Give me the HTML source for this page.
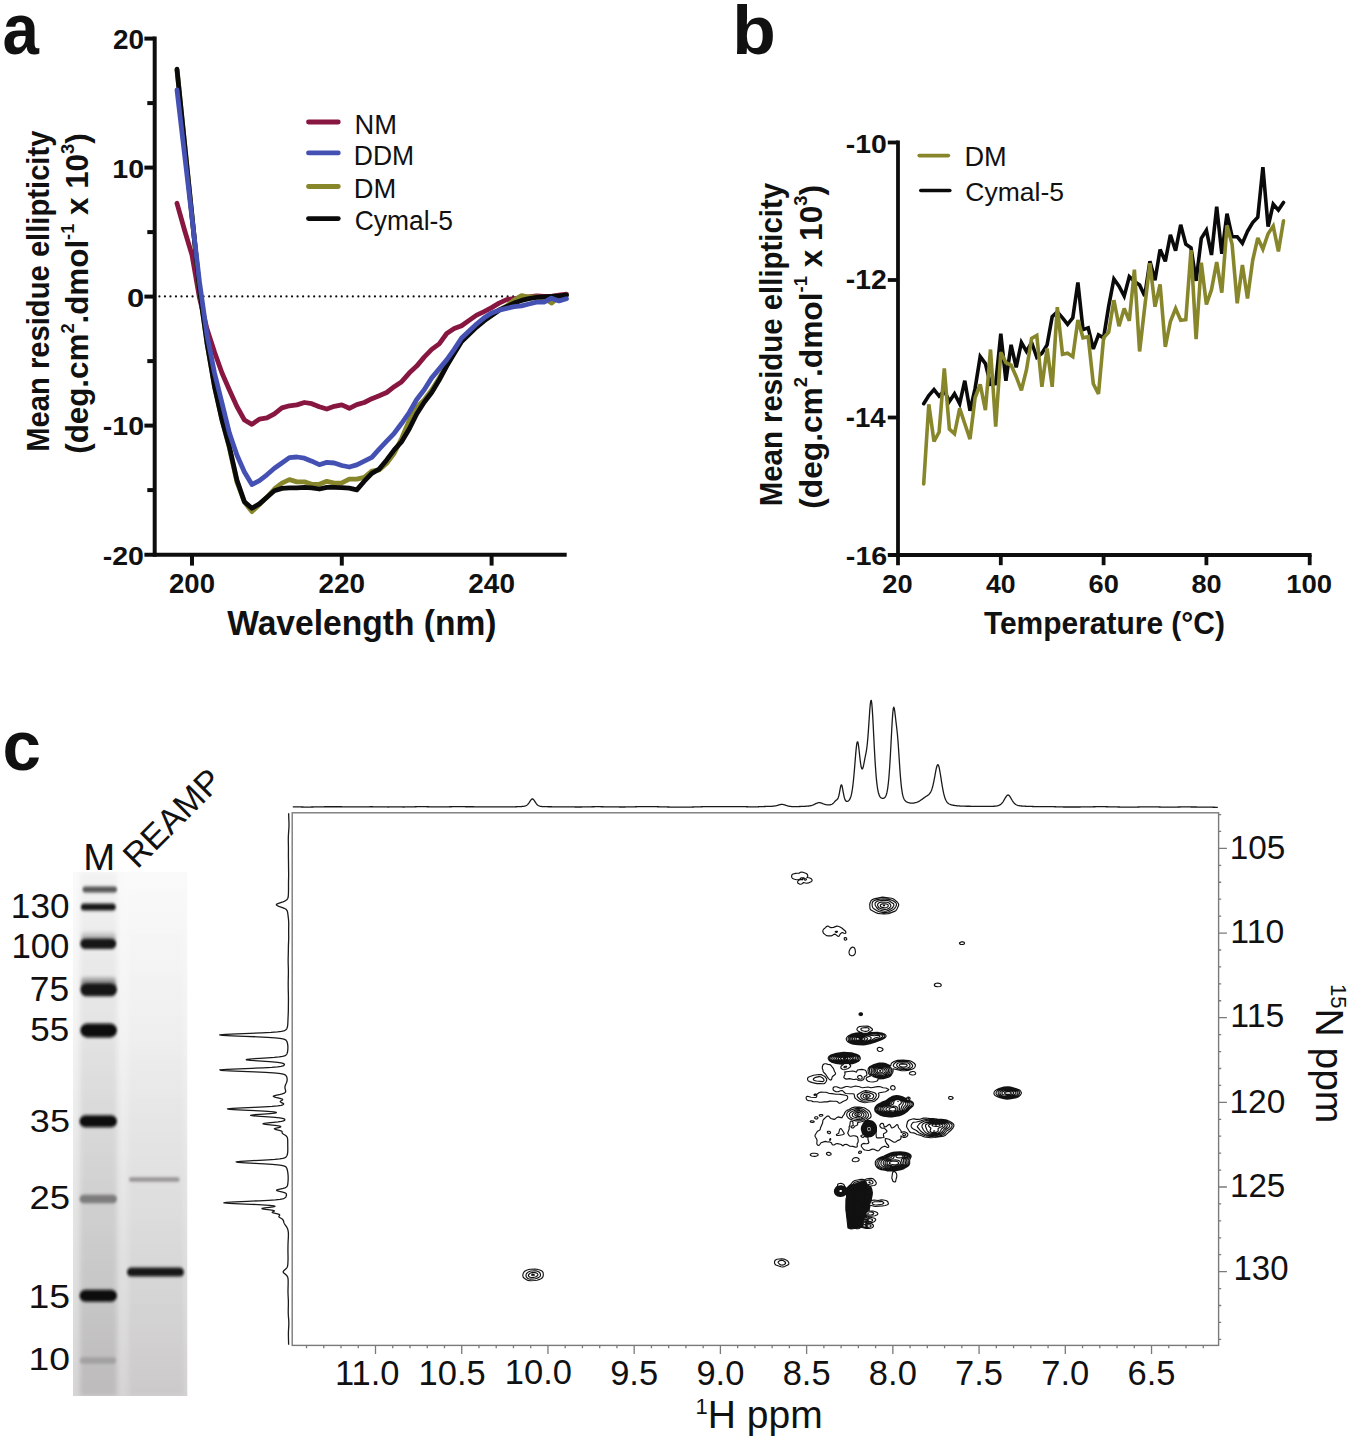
<!DOCTYPE html>
<html><head><meta charset="utf-8"><title>Figure</title>
<style>html,body{margin:0;padding:0;background:#fff;}svg{display:block;}
text{font-family:"Liberation Sans", sans-serif;}</style></head>
<body><svg width="1350" height="1441" viewBox="0 0 1350 1441">
<rect width="1350" height="1441" fill="#fff"/>
<text transform="translate(2.43,54.48) scale(0.9131,1)" font-size="71.78" font-weight="bold" fill="#111" >a</text>
<text transform="translate(732.37,54.11) scale(1.0396,1)" font-size="68.57" font-weight="bold" fill="#111" >b</text>
<text transform="translate(2.43,769.69) scale(0.9729,1)" font-size="71.05" font-weight="bold" fill="#111" >c</text>
<line x1="154.7" y1="36.6" x2="154.7" y2="556.7" stroke="#0d0d0d" stroke-width="4.0"/>
<line x1="144.4" y1="554.7" x2="566.7" y2="554.7" stroke="#0d0d0d" stroke-width="4.0"/>
<line x1="144.4" y1="38.60" x2="154.7" y2="38.60" stroke="#0d0d0d" stroke-width="4.0"/>
<line x1="144.4" y1="167.60" x2="154.7" y2="167.60" stroke="#0d0d0d" stroke-width="4.0"/>
<line x1="144.4" y1="296.60" x2="154.7" y2="296.60" stroke="#0d0d0d" stroke-width="4.0"/>
<line x1="144.4" y1="425.60" x2="154.7" y2="425.60" stroke="#0d0d0d" stroke-width="4.0"/>
<line x1="147.3" y1="103.10" x2="154.7" y2="103.10" stroke="#0d0d0d" stroke-width="4.0"/>
<line x1="147.3" y1="232.10" x2="154.7" y2="232.10" stroke="#0d0d0d" stroke-width="4.0"/>
<line x1="147.3" y1="361.10" x2="154.7" y2="361.10" stroke="#0d0d0d" stroke-width="4.0"/>
<line x1="147.3" y1="490.10" x2="154.7" y2="490.10" stroke="#0d0d0d" stroke-width="4.0"/>
<line x1="192.00" y1="554.7" x2="192.00" y2="565.6" stroke="#0d0d0d" stroke-width="4.0"/>
<line x1="341.80" y1="554.7" x2="341.80" y2="565.6" stroke="#0d0d0d" stroke-width="4.0"/>
<line x1="491.60" y1="554.7" x2="491.60" y2="565.6" stroke="#0d0d0d" stroke-width="4.0"/>
<line x1="159.4" y1="296.4" x2="566" y2="296.4" stroke="#0d0d0d" stroke-width="2.2" stroke-dasharray="0 5.527" stroke-linecap="round"/>
<text transform="translate(112.92,49.13) scale(1.0183,1)" font-size="27.42" font-weight="bold" fill="#111" >20</text>
<text transform="translate(112.31,177.94) scale(1.1112,1)" font-size="25.72" font-weight="bold" fill="#111" >10</text>
<text transform="translate(126.96,306.74) scale(1.2030,1)" font-size="25.72" font-weight="bold" fill="#111" >0</text>
<text transform="translate(102.86,435.44) scale(1.1139,1)" font-size="25.58" font-weight="bold" fill="#111" >-10</text>
<text transform="translate(102.76,565.33) scale(1.0668,1)" font-size="26.71" font-weight="bold" fill="#111" >-20</text>
<text transform="translate(169.04,592.53) scale(1.0319,1)" font-size="26.71" font-weight="bold" fill="#111" >200</text>
<text transform="translate(318.62,593.02) scale(0.9863,1)" font-size="28.27" font-weight="bold" fill="#111" >220</text>
<text transform="translate(468.32,593.02) scale(0.9885,1)" font-size="28.27" font-weight="bold" fill="#111" >240</text>
<text transform="translate(227.22,635.13) scale(0.9691,1)" font-size="34.67" font-weight="bold" fill="#111" >Wavelength (nm)</text>
<polyline points="177.0,203.3 184.5,230.0 192.0,255.0 199.5,298.0 207.0,329.0 214.5,352.0 222.0,373.0 229.4,390.0 236.9,406.5 244.4,420.0 251.9,424.4 259.4,419.1 266.9,417.9 274.4,413.8 281.9,407.9 289.4,405.8 296.9,404.9 304.4,402.5 311.8,403.7 319.3,406.7 326.8,409.0 334.3,406.3 341.8,404.9 349.3,408.3 356.8,404.6 364.3,402.5 371.8,398.7 379.2,395.8 386.7,392.5 394.2,386.7 401.7,381.7 409.2,373.1 416.7,366.1 424.2,357.1 431.7,349.4 439.2,343.9 446.7,333.5 454.2,328.6 461.6,325.8 469.1,320.4 476.6,315.1 484.1,311.6 491.6,307.6 499.1,303.1 506.6,299.6 514.1,298.7 521.6,297.8 529.0,296.9 536.5,296.0 544.0,296.4 551.5,296.4 559.0,295.1 566.5,294.2" fill="none" stroke="#871741" stroke-width="4.8" stroke-linejoin="round" stroke-linecap="round"/>
<polyline points="177.0,70.0 184.5,143.0 192.0,216.0 199.5,290.0 207.0,343.0 214.5,386.0 222.0,420.0 229.4,448.0 236.9,482.0 244.4,502.0 251.9,511.6 259.4,504.4 266.9,497.3 274.4,489.0 281.9,483.1 289.4,479.6 296.9,481.9 304.4,481.9 311.8,484.3 319.3,484.3 326.8,481.3 334.3,483.1 341.8,482.8 349.3,479.1 356.8,479.1 364.3,477.4 371.8,471.2 379.2,469.9 386.7,463.3 394.2,453.3 401.7,438.3 409.2,420.8 416.7,407.5 424.2,400.0 431.7,390.0 439.2,378.0 446.7,365.0 454.2,352.0 461.6,341.0 469.1,333.0 476.6,326.0 484.1,320.0 491.6,315.0 499.1,310.0 506.6,306.0 514.1,300.0 521.6,295.6 529.0,297.0 536.5,297.0 544.0,298.0 551.5,303.1 559.0,297.0 566.5,295.0" fill="none" stroke="#87862b" stroke-width="4.8" stroke-linejoin="round" stroke-linecap="round"/>
<polyline points="177.0,69.2 184.5,143.0 192.0,216.0 199.5,290.0 207.0,343.0 214.5,386.7 222.0,420.0 229.4,446.7 236.9,480.0 244.4,501.7 251.9,508.3 259.4,503.9 266.9,497.3 274.4,490.8 281.9,488.4 289.4,487.9 296.9,487.9 304.4,487.3 311.8,487.9 319.3,489.0 326.8,487.3 334.3,487.3 341.8,487.6 349.3,488.2 356.8,489.9 364.3,481.2 371.8,473.3 379.2,469.1 386.7,459.9 394.2,449.9 401.7,441.6 409.2,429.0 416.7,414.0 424.2,402.2 431.7,392.5 439.2,380.0 446.7,366.1 454.2,353.6 461.6,341.5 469.1,334.2 476.6,327.1 484.1,320.9 491.6,315.6 499.1,310.2 506.6,306.7 514.1,303.1 521.6,300.4 529.0,298.7 536.5,297.3 544.0,296.9 551.5,296.4 559.0,296.0 566.5,295.1" fill="none" stroke="#0a0a0a" stroke-width="4.8" stroke-linejoin="round" stroke-linecap="round"/>
<polyline points="177.0,90.0 184.5,154.0 192.0,218.0 199.5,282.0 207.0,335.0 214.5,373.0 222.0,403.0 229.4,433.0 236.9,455.0 244.4,472.0 251.9,484.5 259.4,480.7 266.9,474.8 274.4,468.3 281.9,463.0 289.4,457.6 296.9,457.0 304.4,458.2 311.8,461.2 319.3,464.7 326.8,462.4 334.3,463.0 341.8,465.5 349.3,467.0 356.8,464.9 364.3,461.2 371.8,457.4 379.2,449.1 386.7,441.2 394.2,433.3 401.7,423.3 409.2,412.5 416.7,399.5 424.2,389.7 431.7,377.9 439.2,368.9 446.7,359.9 454.2,349.4 461.6,338.0 469.1,331.0 476.6,324.0 484.1,317.8 491.6,312.9 499.1,310.2 506.6,308.4 514.1,306.7 521.6,305.8 529.0,304.0 536.5,302.2 544.0,302.2 551.5,298.2 559.0,300.9 566.5,298.7" fill="none" stroke="#4451b3" stroke-width="4.8" stroke-linejoin="round" stroke-linecap="round"/>
<line x1="308.5" y1="122" x2="338.3" y2="122" stroke="#871741" stroke-width="4.8" stroke-linecap="round"/>
<line x1="308.5" y1="152.9" x2="338.3" y2="152.9" stroke="#4451b3" stroke-width="4.8" stroke-linecap="round"/>
<line x1="308.5" y1="186.5" x2="338.3" y2="186.5" stroke="#87862b" stroke-width="4.8" stroke-linecap="round"/>
<line x1="308.5" y1="218.6" x2="338.3" y2="218.6" stroke="#0a0a0a" stroke-width="4.8" stroke-linecap="round"/>
<text transform="translate(354.44,133.60) scale(0.9944,1)" font-size="27.49" font-weight="normal" fill="#111" >NM</text>
<text transform="translate(353.81,164.70) scale(0.9394,1)" font-size="28.22" font-weight="normal" fill="#111" >DDM</text>
<text transform="translate(353.74,198.00) scale(0.9840,1)" font-size="27.78" font-weight="normal" fill="#111" >DM</text>
<text transform="translate(354.68,230.37) scale(0.9741,1)" font-size="27.13" font-weight="normal" fill="#111" >Cymal-5</text>
<text transform="translate(48.84,451.87) rotate(-90) scale(0.9234,1)" font-size="31.64" font-weight="bold" fill="#111" >Mean residue ellipticity</text>
<text transform="translate(88.20,453.80) rotate(-90) scale(1.0250,1)" font-size="30.60" font-weight="bold" fill="#111" xml:space="preserve"><tspan>(deg.cm</tspan><tspan font-size="17.75" dy="-14.69">2</tspan><tspan dy="14.69">.dmol</tspan><tspan font-size="17.75" dy="-14.69">-1</tspan><tspan dy="14.69"> x 10</tspan><tspan font-size="17.75" dy="-14.69">3</tspan><tspan dy="14.69">)</tspan></text>
<line x1="898.0" y1="140.60" x2="898.0" y2="565.2" stroke="#0d0d0d" stroke-width="3.8"/>
<line x1="887.8" y1="555.00" x2="1311.6" y2="555.00" stroke="#0d0d0d" stroke-width="3.8"/>
<line x1="887.8" y1="142.50" x2="898.0" y2="142.50" stroke="#0d0d0d" stroke-width="3.8"/>
<line x1="887.8" y1="280.00" x2="898.0" y2="280.00" stroke="#0d0d0d" stroke-width="3.8"/>
<line x1="887.8" y1="417.50" x2="898.0" y2="417.50" stroke="#0d0d0d" stroke-width="3.8"/>
<line x1="1000.80" y1="555.00" x2="1000.80" y2="565.2" stroke="#0d0d0d" stroke-width="3.8"/>
<line x1="1103.60" y1="555.00" x2="1103.60" y2="565.2" stroke="#0d0d0d" stroke-width="3.8"/>
<line x1="1206.40" y1="555.00" x2="1206.40" y2="565.2" stroke="#0d0d0d" stroke-width="3.8"/>
<line x1="1309.70" y1="555.00" x2="1309.70" y2="565.2" stroke="#0d0d0d" stroke-width="3.8"/>
<text transform="translate(845.77,153.48) scale(1.0698,1)" font-size="26.50" font-weight="bold" fill="#111" >-10</text>
<text transform="translate(845.77,289.40) scale(1.0519,1)" font-size="26.95" font-weight="bold" fill="#111" >-12</text>
<text transform="translate(845.79,426.90) scale(1.0109,1)" font-size="27.35" font-weight="bold" fill="#111" >-14</text>
<text transform="translate(845.85,564.94) scale(1.0971,1)" font-size="26.15" font-weight="bold" fill="#111" >-16</text>
<text transform="translate(882.35,593.05) scale(1.0891,1)" font-size="25.02" font-weight="bold" fill="#111" >20</text>
<text transform="translate(985.90,593.05) scale(1.0647,1)" font-size="25.02" font-weight="bold" fill="#111" >40</text>
<text transform="translate(1088.53,593.05) scale(1.0879,1)" font-size="25.02" font-weight="bold" fill="#111" >60</text>
<text transform="translate(1191.47,593.05) scale(1.0826,1)" font-size="25.02" font-weight="bold" fill="#111" >80</text>
<text transform="translate(1286.18,592.55) scale(1.0946,1)" font-size="25.16" font-weight="bold" fill="#111" >100</text>
<text transform="translate(983.90,634.30) scale(0.9568,1)" font-size="31.31" font-weight="bold" fill="#111" >Temperature (°C)</text>
<text transform="translate(782.34,506.28) rotate(-90) scale(0.9292,1)" font-size="31.64" font-weight="bold" fill="#111" >Mean residue ellipticity</text>
<text transform="translate(821.70,508.70) rotate(-90) scale(1.0360,1)" font-size="30.60" font-weight="bold" fill="#111" xml:space="preserve"><tspan>(deg.cm</tspan><tspan font-size="17.75" dy="-14.69">2</tspan><tspan dy="14.69">.dmol</tspan><tspan font-size="17.75" dy="-14.69">-1</tspan><tspan dy="14.69"> x 10</tspan><tspan font-size="17.75" dy="-14.69">3</tspan><tspan dy="14.69">)</tspan></text>
<polyline points="923.7,403.7 928.8,395.5 934.0,389.6 939.1,396.1 944.3,390.8 949.4,401.4 954.5,393.7 959.7,403.7 964.8,380.7 970.0,410.8 975.1,388.4 980.2,356.6 985.4,363.6 990.5,384.3 995.7,383.7 1000.8,333.6 1005.9,380.7 1011.1,344.8 1016.2,367.3 1021.4,342.5 1026.5,351.4 1031.6,342.5 1036.8,357.3 1041.9,353.2 1047.1,344.9 1052.2,316.6 1057.3,311.9 1062.5,317.8 1067.6,324.3 1072.8,317.8 1077.9,282.4 1083.0,329.6 1088.2,327.8 1093.3,349.0 1098.5,334.9 1103.6,337.8 1108.7,306.1 1113.9,279.0 1119.0,286.1 1124.2,296.1 1129.3,276.7 1134.4,281.4 1139.6,284.9 1144.7,296.1 1149.9,261.3 1155.0,280.2 1160.1,249.5 1165.3,261.3 1170.4,234.8 1175.6,250.7 1180.7,224.8 1185.8,244.2 1191.0,247.9 1196.1,280.9 1201.3,238.4 1206.4,230.2 1211.5,255.0 1216.7,206.6 1221.8,253.8 1227.0,213.7 1232.1,236.7 1237.2,236.7 1242.4,243.2 1247.5,231.4 1252.7,222.5 1257.8,217.2 1262.9,167.1 1268.1,226.7 1273.2,204.2 1278.4,210.1 1283.5,202.5" fill="none" stroke="#0a0a0a" stroke-width="3.6" stroke-linejoin="miter" stroke-miterlimit="3" stroke-linecap="round"/>
<polyline points="923.7,483.9 928.8,404.3 934.0,441.5 939.1,432.0 944.3,368.3 949.4,429.1 954.5,433.8 959.7,408.4 964.8,423.8 970.0,439.1 975.1,397.8 980.2,384.3 985.4,410.2 990.5,349.5 995.7,426.7 1000.8,352.4 1005.9,362.6 1011.1,365.0 1016.2,376.7 1021.4,390.3 1026.5,369.7 1031.6,338.4 1036.8,335.5 1041.9,386.8 1047.1,348.4 1052.2,386.8 1057.3,307.2 1062.5,354.3 1067.6,353.2 1072.8,356.7 1077.9,320.1 1083.0,337.8 1088.2,336.7 1093.3,383.8 1098.5,393.8 1103.6,337.8 1108.7,332.1 1113.9,300.2 1119.0,326.2 1124.2,308.5 1129.3,320.9 1134.4,269.6 1139.6,351.5 1144.7,307.3 1149.9,263.1 1155.0,306.7 1160.1,284.3 1165.3,346.8 1170.4,321.5 1175.6,308.5 1180.7,320.3 1185.8,319.7 1191.0,250.2 1196.1,339.2 1201.3,262.6 1206.4,304.5 1211.5,289.7 1216.7,262.0 1221.8,292.7 1227.0,225.5 1232.1,244.3 1237.2,303.3 1242.4,265.0 1247.5,298.6 1252.7,260.3 1257.8,237.9 1262.9,249.1 1268.1,233.7 1273.2,226.1 1278.4,251.4 1283.5,220.8" fill="none" stroke="#87862b" stroke-width="3.6" stroke-linejoin="miter" stroke-miterlimit="3" stroke-linecap="round"/>
<line x1="919.2" y1="155.6" x2="948.4" y2="155.6" stroke="#87862b" stroke-width="3.6" stroke-linecap="round"/>
<line x1="920.8" y1="190.5" x2="949.8" y2="190.5" stroke="#0a0a0a" stroke-width="3.6" stroke-linecap="round"/>
<text transform="translate(964.46,166.30) scale(0.9998,1)" font-size="27.20" font-weight="normal" fill="#111" >DM</text>
<text transform="translate(965.37,201.35) scale(1.0090,1)" font-size="26.27" font-weight="normal" fill="#111" >Cymal-5</text>
<defs>
<filter id="bl1" x="-20%" y="-200%" width="140%" height="500%"><feGaussianBlur stdDeviation="1.3 1.7"/></filter>
<filter id="bl2" x="-20%" y="-200%" width="140%" height="500%"><feGaussianBlur stdDeviation="1.6 2.2"/></filter>
<filter id="bl3" x="-50%" y="-50%" width="200%" height="200%"><feGaussianBlur stdDeviation="2.5"/></filter>
<linearGradient id="gelbg" x1="0" y1="0" x2="0" y2="1">
<stop offset="0" stop-color="#fafafa"/><stop offset="0.3" stop-color="#f3f3f3"/><stop offset="0.6" stop-color="#e7e6e6"/><stop offset="0.85" stop-color="#dddcdc"/><stop offset="1" stop-color="#d6d4d4"/></linearGradient>
<linearGradient id="gellane" x1="0" y1="0" x2="0" y2="1">
<stop offset="0" stop-color="#000" stop-opacity="0.03"/><stop offset="0.35" stop-color="#000" stop-opacity="0.07"/><stop offset="1" stop-color="#000" stop-opacity="0.12"/></linearGradient>
<linearGradient id="gellane2" x1="0" y1="0" x2="0" y2="1">
<stop offset="0" stop-color="#000" stop-opacity="0.0"/><stop offset="0.4" stop-color="#000" stop-opacity="0.02"/><stop offset="1" stop-color="#000" stop-opacity="0.05"/></linearGradient>
</defs>
<rect x="73" y="872" width="114.3" height="524" fill="url(#gelbg)"/>
<clipPath id="gelclip"><rect x="73" y="872" width="114.3" height="524"/></clipPath>
<rect x="80" y="872" width="37" height="524" fill="url(#gellane)" filter="url(#bl3)" clip-path="url(#gelclip)"/>
<rect x="128.5" y="872" width="56" height="524" fill="url(#gellane2)" filter="url(#bl3)" clip-path="url(#gelclip)"/>
<rect x="81" y="978" width="35" height="12" rx="4" fill="#444" opacity="0.5" filter="url(#bl2)"/>
<rect x="81" y="933" width="35" height="10" rx="4" fill="#666" opacity="0.35" filter="url(#bl2)"/>
<rect x="82.5" y="886.4" width="34.5" height="6" rx="3.0" fill="#555" filter="url(#bl1)"/>
<rect x="80.8" y="903.4" width="35.0" height="7" rx="3.5" fill="#141414" filter="url(#bl1)"/>
<rect x="80.2" y="938.5" width="36.1" height="10.5" rx="5.2" fill="#131313" filter="url(#bl1)"/>
<rect x="80.3" y="983.3" width="36.7" height="13" rx="6.5" fill="#131313" filter="url(#bl1)"/>
<rect x="80.3" y="1023.4" width="36.7" height="14" rx="7.0" fill="#0d0d0d" filter="url(#bl1)"/>
<rect x="79.5" y="1115.3" width="37.5" height="12" rx="6.0" fill="#111" filter="url(#bl1)"/>
<rect x="79.5" y="1194.7" width="37.5" height="8.5" rx="4.2" fill="#7d7b7b" filter="url(#bl1)"/>
<rect x="79.5" y="1289.7" width="37.5" height="12" rx="6.0" fill="#111" filter="url(#bl1)"/>
<rect x="80" y="1357.2" width="36.0" height="6.5" rx="3.2" fill="#a3a1a1" filter="url(#bl1)"/>
<rect x="129" y="1177.6" width="50.6" height="4" rx="2" fill="#8e8c8c" filter="url(#bl1)"/>
<rect x="127" y="1267.6" width="57" height="9" rx="4.5" fill="#121212" filter="url(#bl1)"/>
<text transform="translate(10.87,917.55) scale(1.0017,1)" font-size="35.05" font-weight="normal" fill="#111" >130</text>
<text transform="translate(11.39,957.95) scale(0.9807,1)" font-size="35.48" font-weight="normal" fill="#111" >100</text>
<text transform="translate(29.74,1000.95) scale(1.0114,1)" font-size="34.98" font-weight="normal" fill="#111" >75</text>
<text transform="translate(30.20,1041.46) scale(1.0418,1)" font-size="33.55" font-weight="normal" fill="#111" >55</text>
<text transform="translate(29.85,1131.98) scale(1.1279,1)" font-size="31.94" font-weight="normal" fill="#111" >35</text>
<text transform="translate(29.38,1209.37) scale(1.0887,1)" font-size="33.50" font-weight="normal" fill="#111" >25</text>
<text transform="translate(28.40,1308.26) scale(1.1050,1)" font-size="33.84" font-weight="normal" fill="#111" >15</text>
<text transform="translate(28.40,1369.68) scale(1.1623,1)" font-size="32.08" font-weight="normal" fill="#111" >10</text>
<text transform="translate(83.24,869.60) scale(1.0547,1)" font-size="36.36" font-weight="normal" fill="#111" >M</text>
<text transform="translate(137.2,869.8) rotate(-45)" font-size="34.5" fill="#111">REAMP</text>
<rect x="292.2" y="812.8" width="926.4" height="532.6" fill="none" stroke="#7a7a7a" stroke-width="1.4"/>
<path d="M1218.6,814.54h2.6 M1218.6,831.47h2.6 M1218.6,848.40h8.3 M1218.6,865.33h2.6 M1218.6,882.26h2.6 M1218.6,899.19h2.6 M1218.6,916.12h2.6 M1218.6,933.05h8.3 M1218.6,949.98h2.6 M1218.6,966.91h2.6 M1218.6,983.84h2.6 M1218.6,1000.77h2.6 M1218.6,1017.70h8.3 M1218.6,1034.63h2.6 M1218.6,1051.56h2.6 M1218.6,1068.49h2.6 M1218.6,1085.42h2.6 M1218.6,1102.35h8.3 M1218.6,1119.28h2.6 M1218.6,1136.21h2.6 M1218.6,1153.14h2.6 M1218.6,1170.07h2.6 M1218.6,1187.00h8.3 M1218.6,1203.93h2.6 M1218.6,1220.86h2.6 M1218.6,1237.79h2.6 M1218.6,1254.72h2.6 M1218.6,1271.65h8.3 M1218.6,1288.58h2.6 M1218.6,1305.51h2.6 M1218.6,1322.44h2.6 M1218.6,1339.37h2.6 M306.52,1345.4v2.8 M323.76,1345.4v2.8 M341.01,1345.4v2.8 M358.26,1345.4v2.8 M375.50,1345.4v8.6 M392.74,1345.4v2.8 M409.99,1345.4v2.8 M427.24,1345.4v2.8 M444.48,1345.4v2.8 M461.73,1345.4v8.6 M478.97,1345.4v2.8 M496.21,1345.4v2.8 M513.46,1345.4v2.8 M530.71,1345.4v2.8 M547.95,1345.4v8.6 M565.19,1345.4v2.8 M582.44,1345.4v2.8 M599.69,1345.4v2.8 M616.93,1345.4v2.8 M634.17,1345.4v8.6 M651.42,1345.4v2.8 M668.66,1345.4v2.8 M685.91,1345.4v2.8 M703.15,1345.4v2.8 M720.40,1345.4v8.6 M737.64,1345.4v2.8 M754.89,1345.4v2.8 M772.14,1345.4v2.8 M789.38,1345.4v2.8 M806.62,1345.4v8.6 M823.87,1345.4v2.8 M841.11,1345.4v2.8 M858.36,1345.4v2.8 M875.61,1345.4v2.8 M892.85,1345.4v8.6 M910.09,1345.4v2.8 M927.34,1345.4v2.8 M944.58,1345.4v2.8 M961.83,1345.4v2.8 M979.07,1345.4v8.6 M996.32,1345.4v2.8 M1013.56,1345.4v2.8 M1030.81,1345.4v2.8 M1048.06,1345.4v2.8 M1065.30,1345.4v8.6 M1082.54,1345.4v2.8 M1099.79,1345.4v2.8 M1117.03,1345.4v2.8 M1134.28,1345.4v2.8 M1151.53,1345.4v8.6 M1168.77,1345.4v2.8 M1186.01,1345.4v2.8 M1203.26,1345.4v2.8" stroke="#7a7a7a" stroke-width="1.3" fill="none"/>
<text transform="translate(1229.70,858.97) scale(0.9960,1)" font-size="33.50" font-weight="normal" fill="#111" >105</text>
<text transform="translate(1230.37,943.41) scale(0.9980,1)" font-size="33.85" font-weight="normal" fill="#111" >110</text>
<text transform="translate(1230.36,1026.86) scale(0.9960,1)" font-size="33.98" font-weight="normal" fill="#111" >115</text>
<text transform="translate(1229.39,1113.16) scale(0.9918,1)" font-size="33.78" font-weight="normal" fill="#111" >120</text>
<text transform="translate(1229.91,1196.87) scale(0.9922,1)" font-size="33.50" font-weight="normal" fill="#111" >125</text>
<text transform="translate(1233.53,1279.66) scale(0.9645,1)" font-size="34.20" font-weight="normal" fill="#111" >130</text>
<text x="334.89" y="1384.8" font-size="34.5" fill="#111">11.0</text>
<text x="418.55" y="1384.8" font-size="34.5" fill="#111">10.5</text>
<text x="504.78" y="1384.0" font-size="34.5" fill="#111">10.0</text>
<text x="610.19" y="1384.8" font-size="34.5" fill="#111">9.5</text>
<text x="696.42" y="1384.8" font-size="34.5" fill="#111">9.0</text>
<text x="782.64" y="1384.8" font-size="34.5" fill="#111">8.5</text>
<text x="868.87" y="1384.8" font-size="34.5" fill="#111">8.0</text>
<text x="955.09" y="1384.8" font-size="34.5" fill="#111">7.5</text>
<text x="1041.32" y="1384.8" font-size="34.5" fill="#111">7.0</text>
<text x="1127.54" y="1384.8" font-size="34.5" fill="#111">6.5</text>
<text x="695.5" y="1428.2" font-size="39" fill="#111"><tspan font-size="22" dy="-14.5">1</tspan><tspan dy="14.5">H ppm</tspan></text>
<text transform="translate(1316.2,984) rotate(90)" font-size="39" fill="#111"><tspan font-size="22" dy="-14.5">15</tspan><tspan dy="14.5">N ppm</tspan></text>
<path d="M292.8,806.85 L293.3,806.85 L293.8,806.85 L294.3,806.85 L294.8,806.86 L295.3,806.87 L295.8,806.87 L296.3,806.88 L296.8,806.89 L297.3,806.90 L297.8,806.91 L298.3,806.92 L298.8,806.93 L299.3,806.94 L299.8,806.95 L300.3,806.96 L300.8,806.97 L301.3,806.98 L301.8,806.99 L302.3,807.00 L302.8,807.01 L303.3,807.02 L303.8,807.03 L304.3,807.03 L304.8,807.04 L305.3,807.04 L305.8,807.05 L306.3,807.05 L306.8,807.05 L307.3,807.05 L307.8,807.05 L308.3,807.05 L308.8,807.05 L309.3,807.04 L309.8,807.04 L310.3,807.03 L310.8,807.03 L311.3,807.02 L311.8,807.01 L312.3,807.00 L312.8,806.99 L313.3,806.98 L313.8,806.97 L314.3,806.96 L314.8,806.95 L315.3,806.94 L315.8,806.93 L316.3,806.92 L316.8,806.91 L317.3,806.90 L317.8,806.89 L318.3,806.88 L318.8,806.87 L319.3,806.86 L319.8,806.85 L320.3,806.84 L320.8,806.83 L321.3,806.82 L321.8,806.81 L322.3,806.80 L322.8,806.79 L323.3,806.79 L323.8,806.78 L324.3,806.77 L324.8,806.77 L325.3,806.76 L325.8,806.75 L326.3,806.75 L326.8,806.74 L327.3,806.74 L327.8,806.74 L328.3,806.73 L328.8,806.73 L329.3,806.73 L329.8,806.73 L330.3,806.73 L330.8,806.73 L331.3,806.73 L331.8,806.73 L332.3,806.73 L332.8,806.73 L333.3,806.73 L333.8,806.74 L334.3,806.74 L334.8,806.74 L335.3,806.74 L335.8,806.74 L336.3,806.75 L336.8,806.75 L337.3,806.75 L337.8,806.76 L338.3,806.76 L338.8,806.76 L339.3,806.76 L339.8,806.77 L340.3,806.77 L340.8,806.77 L341.3,806.77 L341.8,806.77 L342.3,806.78 L342.8,806.78 L343.3,806.78 L343.8,806.78 L344.3,806.78 L344.8,806.78 L345.3,806.78 L345.8,806.78 L346.3,806.79 L346.8,806.79 L347.3,806.79 L347.8,806.79 L348.3,806.79 L348.8,806.79 L349.3,806.80 L349.8,806.80 L350.3,806.80 L350.8,806.80 L351.3,806.80 L351.8,806.81 L352.3,806.81 L352.8,806.81 L353.3,806.82 L353.8,806.82 L354.3,806.82 L354.8,806.82 L355.3,806.83 L355.8,806.83 L356.3,806.83 L356.8,806.83 L357.3,806.84 L357.8,806.84 L358.3,806.84 L358.8,806.84 L359.3,806.84 L359.8,806.84 L360.3,806.84 L360.8,806.84 L361.3,806.84 L361.8,806.83 L362.3,806.83 L362.8,806.83 L363.3,806.83 L363.8,806.82 L364.3,806.82 L364.8,806.81 L365.3,806.81 L365.8,806.80 L366.3,806.80 L366.8,806.80 L367.3,806.79 L367.8,806.79 L368.3,806.78 L368.8,806.78 L369.3,806.78 L369.8,806.77 L370.3,806.77 L370.8,806.77 L371.3,806.77 L371.8,806.77 L372.3,806.77 L372.8,806.77 L373.3,806.78 L373.8,806.78 L374.3,806.79 L374.8,806.79 L375.3,806.80 L375.8,806.80 L376.3,806.81 L376.8,806.82 L377.3,806.83 L377.8,806.84 L378.3,806.85 L378.8,806.86 L379.3,806.87 L379.8,806.88 L380.3,806.89 L380.8,806.90 L381.3,806.91 L381.8,806.92 L382.3,806.92 L382.8,806.93 L383.3,806.94 L383.8,806.95 L384.3,806.95 L384.8,806.96 L385.3,806.96 L385.8,806.97 L386.3,806.97 L386.8,806.97 L387.3,806.97 L387.8,806.98 L388.3,806.98 L388.8,806.98 L389.3,806.97 L389.8,806.97 L390.3,806.97 L390.8,806.97 L391.3,806.97 L391.8,806.97 L392.3,806.96 L392.8,806.96 L393.3,806.96 L393.8,806.96 L394.3,806.96 L394.8,806.96 L395.3,806.95 L395.8,806.95 L396.3,806.95 L396.8,806.95 L397.3,806.96 L397.8,806.96 L398.3,806.96 L398.8,806.96 L399.3,806.96 L399.8,806.96 L400.3,806.97 L400.8,806.97 L401.3,806.97 L401.8,806.97 L402.3,806.97 L402.8,806.98 L403.3,806.98 L403.8,806.98 L404.3,806.98 L404.8,806.97 L405.3,806.97 L405.8,806.97 L406.3,806.96 L406.8,806.96 L407.3,806.95 L407.8,806.95 L408.3,806.94 L408.8,806.93 L409.3,806.92 L409.8,806.91 L410.3,806.90 L410.8,806.88 L411.3,806.87 L411.8,806.86 L412.3,806.84 L412.8,806.83 L413.3,806.81 L413.8,806.80 L414.3,806.79 L414.8,806.77 L415.3,806.76 L415.8,806.75 L416.3,806.74 L416.8,806.72 L417.3,806.71 L417.8,806.71 L418.3,806.70 L418.8,806.69 L419.3,806.69 L419.8,806.68 L420.3,806.68 L420.8,806.68 L421.3,806.68 L421.8,806.68 L422.3,806.68 L422.8,806.68 L423.3,806.69 L423.8,806.69 L424.3,806.70 L424.8,806.70 L425.3,806.71 L425.8,806.72 L426.3,806.72 L426.8,806.73 L427.3,806.74 L427.8,806.75 L428.3,806.76 L428.8,806.77 L429.3,806.78 L429.8,806.79 L430.3,806.79 L430.8,806.80 L431.3,806.81 L431.8,806.82 L432.3,806.83 L432.8,806.83 L433.3,806.84 L433.8,806.85 L434.3,806.85 L434.8,806.86 L435.3,806.86 L435.8,806.87 L436.3,806.87 L436.8,806.88 L437.3,806.88 L437.8,806.88 L438.3,806.88 L438.8,806.88 L439.3,806.88 L439.8,806.88 L440.3,806.88 L440.8,806.88 L441.3,806.88 L441.8,806.87 L442.3,806.87 L442.8,806.87 L443.3,806.86 L443.8,806.85 L444.3,806.85 L444.8,806.84 L445.3,806.84 L445.8,806.83 L446.3,806.82 L446.8,806.81 L447.3,806.80 L447.8,806.79 L448.3,806.79 L448.8,806.78 L449.3,806.77 L449.8,806.76 L450.3,806.75 L450.8,806.74 L451.3,806.73 L451.8,806.73 L452.3,806.72 L452.8,806.71 L453.3,806.71 L453.8,806.70 L454.3,806.69 L454.8,806.69 L455.3,806.69 L455.8,806.68 L456.3,806.68 L456.8,806.68 L457.3,806.68 L457.8,806.68 L458.3,806.68 L458.8,806.68 L459.3,806.68 L459.8,806.68 L460.3,806.68 L460.8,806.69 L461.3,806.69 L461.8,806.69 L462.3,806.70 L462.8,806.70 L463.3,806.71 L463.8,806.71 L464.3,806.72 L464.8,806.72 L465.3,806.73 L465.8,806.73 L466.3,806.74 L466.8,806.74 L467.3,806.74 L467.8,806.75 L468.3,806.75 L468.8,806.76 L469.3,806.76 L469.8,806.76 L470.3,806.76 L470.8,806.77 L471.3,806.77 L471.8,806.77 L472.3,806.77 L472.8,806.77 L473.3,806.77 L473.8,806.77 L474.3,806.78 L474.8,806.78 L475.3,806.78 L475.8,806.78 L476.3,806.78 L476.8,806.78 L477.3,806.78 L477.8,806.78 L478.3,806.78 L478.8,806.78 L479.3,806.78 L479.8,806.78 L480.3,806.78 L480.8,806.78 L481.3,806.78 L481.8,806.78 L482.3,806.78 L482.8,806.78 L483.3,806.78 L483.8,806.78 L484.3,806.78 L484.8,806.78 L485.3,806.78 L485.8,806.78 L486.3,806.78 L486.8,806.78 L487.3,806.78 L487.8,806.78 L488.3,806.79 L488.8,806.79 L489.3,806.79 L489.8,806.79 L490.3,806.79 L490.8,806.79 L491.3,806.79 L491.8,806.79 L492.3,806.79 L492.8,806.79 L493.3,806.80 L493.8,806.80 L494.3,806.80 L494.8,806.81 L495.3,806.81 L495.8,806.81 L496.3,806.82 L496.8,806.82 L497.3,806.83 L497.8,806.84 L498.3,806.84 L498.8,806.85 L499.3,806.85 L499.8,806.86 L500.3,806.87 L500.8,806.87 L501.3,806.88 L501.8,806.89 L502.3,806.89 L502.8,806.90 L503.3,806.90 L503.8,806.91 L504.3,806.91 L504.8,806.92 L505.3,806.92 L505.8,806.92 L506.3,806.92 L506.8,806.92 L507.3,806.92 L507.8,806.92 L508.3,806.91 L508.8,806.91 L509.3,806.91 L509.8,806.90 L510.3,806.89 L510.8,806.89 L511.3,806.88 L511.8,806.87 L512.3,806.86 L512.8,806.85 L513.3,806.83 L513.8,806.82 L514.3,806.81 L514.8,806.79 L515.3,806.78 L515.8,806.76 L516.3,806.75 L516.8,806.73 L517.3,806.71 L517.8,806.69 L518.3,806.67 L518.8,806.65 L519.3,806.63 L519.8,806.61 L520.3,806.59 L520.8,806.56 L521.3,806.53 L521.8,806.50 L522.3,806.46 L522.8,806.42 L523.3,806.37 L523.8,806.30 L524.3,806.21 L524.8,806.10 L525.3,805.96 L525.8,805.77 L526.3,805.52 L526.8,805.21 L527.3,804.83 L527.8,804.35 L528.3,803.80 L528.8,803.15 L529.3,802.44 L529.8,801.68 L530.3,800.91 L530.8,800.18 L531.3,799.55 L531.8,799.11 L532.3,798.92 L532.8,799.01 L533.3,799.37 L533.8,799.94 L534.3,800.65 L534.8,801.42 L535.3,802.20 L535.8,802.95 L536.3,803.63 L536.8,804.23 L537.3,804.74 L537.8,805.16 L538.3,805.51 L538.8,805.78 L539.3,805.99 L539.8,806.15 L540.3,806.28 L540.8,806.37 L541.3,806.44 L541.8,806.50 L542.3,806.54 L542.8,806.57 L543.3,806.60 L543.8,806.62 L544.3,806.64 L544.8,806.66 L545.3,806.67 L545.8,806.69 L546.3,806.70 L546.8,806.71 L547.3,806.72 L547.8,806.73 L548.3,806.73 L548.8,806.74 L549.3,806.75 L549.8,806.75 L550.3,806.76 L550.8,806.76 L551.3,806.77 L551.8,806.77 L552.3,806.78 L552.8,806.78 L553.3,806.79 L553.8,806.79 L554.3,806.80 L554.8,806.80 L555.3,806.80 L555.8,806.81 L556.3,806.81 L556.8,806.82 L557.3,806.82 L557.8,806.82 L558.3,806.82 L558.8,806.83 L559.3,806.83 L559.8,806.83 L560.3,806.83 L560.8,806.84 L561.3,806.84 L561.8,806.84 L562.3,806.84 L562.8,806.85 L563.3,806.85 L563.8,806.85 L564.3,806.86 L564.8,806.86 L565.3,806.86 L565.8,806.87 L566.3,806.87 L566.8,806.88 L567.3,806.88 L567.8,806.89 L568.3,806.89 L568.8,806.90 L569.3,806.91 L569.8,806.91 L570.3,806.92 L570.8,806.93 L571.3,806.93 L571.8,806.94 L572.3,806.95 L572.8,806.95 L573.3,806.96 L573.8,806.96 L574.3,806.97 L574.8,806.98 L575.3,806.98 L575.8,806.98 L576.3,806.99 L576.8,806.99 L577.3,806.99 L577.8,807.00 L578.3,807.00 L578.8,807.00 L579.3,807.00 L579.8,806.99 L580.3,806.99 L580.8,806.99 L581.3,806.98 L581.8,806.98 L582.3,806.97 L582.8,806.97 L583.3,806.96 L583.8,806.95 L584.3,806.94 L584.8,806.93 L585.3,806.92 L585.8,806.91 L586.3,806.90 L586.8,806.89 L587.3,806.88 L587.8,806.87 L588.3,806.85 L588.8,806.84 L589.3,806.83 L589.8,806.82 L590.3,806.80 L590.8,806.79 L591.3,806.78 L591.8,806.77 L592.3,806.76 L592.8,806.75 L593.3,806.74 L593.8,806.73 L594.3,806.73 L594.8,806.72 L595.3,806.72 L595.8,806.71 L596.3,806.71 L596.8,806.71 L597.3,806.71 L597.8,806.71 L598.3,806.71 L598.8,806.71 L599.3,806.71 L599.8,806.72 L600.3,806.72 L600.8,806.73 L601.3,806.74 L601.8,806.74 L602.3,806.75 L602.8,806.76 L603.3,806.77 L603.8,806.78 L604.3,806.78 L604.8,806.79 L605.3,806.80 L605.8,806.81 L606.3,806.82 L606.8,806.83 L607.3,806.84 L607.8,806.84 L608.3,806.85 L608.8,806.86 L609.3,806.87 L609.8,806.87 L610.3,806.88 L610.8,806.89 L611.3,806.90 L611.8,806.90 L612.3,806.91 L612.8,806.91 L613.3,806.92 L613.8,806.93 L614.3,806.93 L614.8,806.94 L615.3,806.94 L615.8,806.95 L616.3,806.95 L616.8,806.96 L617.3,806.96 L617.8,806.97 L618.3,806.97 L618.8,806.97 L619.3,806.98 L619.8,806.98 L620.3,806.98 L620.8,806.99 L621.3,806.99 L621.8,806.99 L622.3,806.99 L622.8,806.99 L623.3,806.99 L623.8,806.99 L624.3,806.98 L624.8,806.98 L625.3,806.98 L625.8,806.97 L626.3,806.97 L626.8,806.96 L627.3,806.95 L627.8,806.94 L628.3,806.94 L628.8,806.93 L629.3,806.92 L629.8,806.91 L630.3,806.89 L630.8,806.88 L631.3,806.87 L631.8,806.86 L632.3,806.84 L632.8,806.83 L633.3,806.82 L633.8,806.80 L634.3,806.79 L634.8,806.78 L635.3,806.76 L635.8,806.75 L636.3,806.74 L636.8,806.73 L637.3,806.72 L637.8,806.70 L638.3,806.69 L638.8,806.68 L639.3,806.68 L639.8,806.67 L640.3,806.66 L640.8,806.65 L641.3,806.64 L641.8,806.64 L642.3,806.63 L642.8,806.63 L643.3,806.63 L643.8,806.62 L644.3,806.62 L644.8,806.62 L645.3,806.62 L645.8,806.61 L646.3,806.61 L646.8,806.61 L647.3,806.61 L647.8,806.61 L648.3,806.62 L648.8,806.62 L649.3,806.62 L649.8,806.62 L650.3,806.63 L650.8,806.63 L651.3,806.63 L651.8,806.64 L652.3,806.65 L652.8,806.65 L653.3,806.66 L653.8,806.67 L654.3,806.67 L654.8,806.68 L655.3,806.69 L655.8,806.70 L656.3,806.71 L656.8,806.72 L657.3,806.73 L657.8,806.75 L658.3,806.76 L658.8,806.77 L659.3,806.78 L659.8,806.80 L660.3,806.81 L660.8,806.82 L661.3,806.84 L661.8,806.85 L662.3,806.86 L662.8,806.88 L663.3,806.89 L663.8,806.90 L664.3,806.91 L664.8,806.93 L665.3,806.94 L665.8,806.95 L666.3,806.96 L666.8,806.97 L667.3,806.98 L667.8,806.99 L668.3,807.00 L668.8,807.01 L669.3,807.02 L669.8,807.03 L670.3,807.04 L670.8,807.05 L671.3,807.06 L671.8,807.06 L672.3,807.07 L672.8,807.08 L673.3,807.09 L673.8,807.10 L674.3,807.10 L674.8,807.11 L675.3,807.12 L675.8,807.13 L676.3,807.13 L676.8,807.14 L677.3,807.15 L677.8,807.15 L678.3,807.16 L678.8,807.16 L679.3,807.17 L679.8,807.17 L680.3,807.17 L680.8,807.17 L681.3,807.17 L681.8,807.17 L682.3,807.17 L682.8,807.17 L683.3,807.17 L683.8,807.17 L684.3,807.16 L684.8,807.16 L685.3,807.15 L685.8,807.15 L686.3,807.14 L686.8,807.13 L687.3,807.13 L687.8,807.12 L688.3,807.11 L688.8,807.10 L689.3,807.09 L689.8,807.08 L690.3,807.07 L690.8,807.06 L691.3,807.04 L691.8,807.03 L692.3,807.02 L692.8,807.01 L693.3,807.00 L693.8,806.99 L694.3,806.97 L694.8,806.96 L695.3,806.95 L695.8,806.93 L696.3,806.92 L696.8,806.91 L697.3,806.89 L697.8,806.88 L698.3,806.86 L698.8,806.85 L699.3,806.83 L699.8,806.82 L700.3,806.80 L700.8,806.79 L701.3,806.77 L701.8,806.75 L702.3,806.74 L702.8,806.72 L703.3,806.71 L703.8,806.69 L704.3,806.68 L704.8,806.66 L705.3,806.65 L705.8,806.63 L706.3,806.62 L706.8,806.61 L707.3,806.59 L707.8,806.58 L708.3,806.57 L708.8,806.56 L709.3,806.56 L709.8,806.55 L710.3,806.54 L710.8,806.54 L711.3,806.53 L711.8,806.53 L712.3,806.53 L712.8,806.53 L713.3,806.53 L713.8,806.53 L714.3,806.54 L714.8,806.54 L715.3,806.54 L715.8,806.55 L716.3,806.55 L716.8,806.56 L717.3,806.56 L717.8,806.57 L718.3,806.57 L718.8,806.58 L719.3,806.59 L719.8,806.59 L720.3,806.60 L720.8,806.60 L721.3,806.60 L721.8,806.61 L722.3,806.61 L722.8,806.61 L723.3,806.62 L723.8,806.62 L724.3,806.62 L724.8,806.62 L725.3,806.62 L725.8,806.62 L726.3,806.62 L726.8,806.62 L727.3,806.62 L727.8,806.62 L728.3,806.62 L728.8,806.61 L729.3,806.61 L729.8,806.61 L730.3,806.61 L730.8,806.61 L731.3,806.60 L731.8,806.60 L732.3,806.60 L732.8,806.60 L733.3,806.59 L733.8,806.59 L734.3,806.59 L734.8,806.59 L735.3,806.59 L735.8,806.59 L736.3,806.58 L736.8,806.58 L737.3,806.58 L737.8,806.59 L738.3,806.59 L738.8,806.59 L739.3,806.59 L739.8,806.60 L740.3,806.60 L740.8,806.61 L741.3,806.61 L741.8,806.62 L742.3,806.63 L742.8,806.64 L743.3,806.65 L743.8,806.66 L744.3,806.67 L744.8,806.69 L745.3,806.70 L745.8,806.71 L746.3,806.73 L746.8,806.74 L747.3,806.76 L747.8,806.77 L748.3,806.78 L748.8,806.80 L749.3,806.81 L749.8,806.82 L750.3,806.83 L750.8,806.84 L751.3,806.85 L751.8,806.85 L752.3,806.85 L752.8,806.86 L753.3,806.86 L753.8,806.86 L754.3,806.85 L754.8,806.85 L755.3,806.84 L755.8,806.83 L756.3,806.82 L756.8,806.81 L757.3,806.79 L757.8,806.78 L758.3,806.76 L758.8,806.74 L759.3,806.72 L759.8,806.70 L760.3,806.68 L760.8,806.66 L761.3,806.64 L761.8,806.62 L762.3,806.60 L762.8,806.58 L763.3,806.56 L763.8,806.54 L764.3,806.52 L764.8,806.50 L765.3,806.49 L765.8,806.47 L766.3,806.46 L766.8,806.44 L767.3,806.43 L767.8,806.42 L768.3,806.40 L768.8,806.39 L769.3,806.38 L769.8,806.37 L770.3,806.35 L770.8,806.33 L771.3,806.31 L771.8,806.28 L772.3,806.25 L772.8,806.21 L773.3,806.17 L773.8,806.11 L774.3,806.05 L774.8,805.97 L775.3,805.88 L775.8,805.78 L776.3,805.67 L776.8,805.54 L777.3,805.41 L777.8,805.27 L778.3,805.12 L778.8,804.97 L779.3,804.82 L779.8,804.69 L780.3,804.57 L780.8,804.48 L781.3,804.42 L781.8,804.39 L782.3,804.41 L782.8,804.46 L783.3,804.55 L783.8,804.67 L784.3,804.81 L784.8,804.97 L785.3,805.14 L785.8,805.30 L786.3,805.47 L786.8,805.62 L787.3,805.77 L787.8,805.91 L788.3,806.03 L788.8,806.14 L789.3,806.24 L789.8,806.32 L790.3,806.39 L790.8,806.45 L791.3,806.50 L791.8,806.53 L792.3,806.56 L792.8,806.58 L793.3,806.60 L793.8,806.60 L794.3,806.61 L794.8,806.61 L795.3,806.61 L795.8,806.60 L796.3,806.59 L796.8,806.58 L797.3,806.57 L797.8,806.56 L798.3,806.55 L798.8,806.53 L799.3,806.52 L799.8,806.50 L800.3,806.49 L800.8,806.47 L801.3,806.45 L801.8,806.43 L802.3,806.41 L802.8,806.39 L803.3,806.37 L803.8,806.35 L804.3,806.33 L804.8,806.30 L805.3,806.28 L805.8,806.25 L806.3,806.22 L806.8,806.18 L807.3,806.15 L807.8,806.10 L808.3,806.05 L808.8,805.99 L809.3,805.92 L809.8,805.84 L810.3,805.75 L810.8,805.64 L811.3,805.52 L811.8,805.38 L812.3,805.22 L812.8,805.04 L813.3,804.85 L813.8,804.64 L814.3,804.41 L814.8,804.18 L815.3,803.93 L815.8,803.68 L816.3,803.44 L816.8,803.22 L817.3,803.01 L817.8,802.84 L818.3,802.72 L818.8,802.65 L819.3,802.63 L819.8,802.67 L820.3,802.76 L820.8,802.89 L821.3,803.05 L821.8,803.23 L822.3,803.43 L822.8,803.63 L823.3,803.83 L823.8,804.01 L824.3,804.19 L824.8,804.34 L825.3,804.48 L825.8,804.60 L826.3,804.70 L826.8,804.78 L827.3,804.83 L827.8,804.87 L828.3,804.89 L828.8,804.89 L829.3,804.87 L829.8,804.83 L830.3,804.75 L830.8,804.64 L831.3,804.49 L831.8,804.27 L832.3,803.98 L832.8,803.62 L833.3,803.17 L833.8,802.64 L834.3,802.07 L834.8,801.47 L835.3,800.92 L835.8,800.46 L836.3,800.11 L836.8,799.79 L837.3,799.36 L837.8,798.64 L838.3,797.47 L838.8,795.75 L839.3,793.49 L839.8,790.83 L840.3,788.12 L840.8,785.89 L841.3,784.81 L841.8,785.29 L842.3,787.15 L842.8,789.80 L843.3,792.64 L843.8,795.24 L844.3,797.40 L844.8,799.03 L845.3,800.17 L845.8,800.89 L846.3,801.27 L846.8,801.42 L847.3,801.40 L847.8,801.23 L848.3,800.94 L848.8,800.52 L849.3,799.94 L849.8,799.16 L850.3,798.11 L850.8,796.73 L851.3,794.93 L851.8,792.61 L852.3,789.68 L852.8,786.09 L853.3,781.79 L853.8,776.78 L854.3,771.17 L854.8,765.11 L855.3,758.88 L855.8,752.88 L856.3,747.64 L856.8,743.77 L857.3,741.80 L857.8,741.98 L858.3,744.15 L858.8,747.80 L859.3,752.27 L859.8,756.92 L860.3,761.21 L860.8,764.76 L861.3,767.32 L861.8,768.74 L862.3,769.02 L862.8,768.21 L863.3,766.51 L863.8,764.16 L864.3,761.51 L864.8,758.86 L865.3,756.38 L865.8,753.97 L866.3,751.31 L866.8,748.00 L867.3,743.72 L867.8,738.33 L868.3,731.86 L868.8,724.59 L869.3,717.02 L869.8,709.88 L870.3,704.11 L870.8,700.71 L871.3,700.43 L871.8,703.51 L872.3,709.59 L872.8,717.86 L873.3,727.42 L873.8,737.42 L874.3,747.23 L874.8,756.41 L875.3,764.65 L875.8,771.81 L876.3,777.85 L876.8,782.81 L877.3,786.77 L877.8,789.87 L878.3,792.25 L878.8,794.05 L879.3,795.39 L879.8,796.39 L880.3,797.11 L880.8,797.63 L881.3,798.00 L881.8,798.24 L882.3,798.38 L882.8,798.42 L883.3,798.37 L883.8,798.21 L884.3,797.94 L884.8,797.50 L885.3,796.87 L885.8,795.97 L886.3,794.71 L886.8,792.98 L887.3,790.64 L887.8,787.54 L888.3,783.53 L888.8,778.48 L889.3,772.32 L889.8,765.01 L890.3,756.66 L890.8,747.48 L891.3,737.85 L891.8,728.33 L892.3,719.69 L892.8,712.84 L893.3,708.57 L893.8,707.23 L894.3,708.54 L894.8,711.72 L895.3,715.87 L895.8,720.24 L896.3,724.50 L896.8,728.71 L897.3,733.28 L897.8,738.72 L898.3,745.30 L898.8,752.76 L899.3,760.55 L899.8,768.09 L900.3,774.94 L900.8,780.90 L901.3,785.87 L901.8,789.88 L902.3,793.01 L902.8,795.39 L903.3,797.18 L903.8,798.50 L904.3,799.49 L904.8,800.23 L905.3,800.80 L905.8,801.25 L906.3,801.62 L906.8,801.92 L907.3,802.17 L907.8,802.38 L908.3,802.56 L908.8,802.71 L909.3,802.83 L909.8,802.93 L910.3,803.01 L910.8,803.06 L911.3,803.10 L911.8,803.12 L912.3,803.12 L912.8,803.10 L913.3,803.06 L913.8,803.00 L914.3,802.92 L914.8,802.83 L915.3,802.71 L915.8,802.58 L916.3,802.43 L916.8,802.25 L917.3,802.06 L917.8,801.84 L918.3,801.61 L918.8,801.35 L919.3,801.08 L919.8,800.79 L920.3,800.48 L920.8,800.16 L921.3,799.82 L921.8,799.47 L922.3,799.11 L922.8,798.74 L923.3,798.38 L923.8,798.01 L924.3,797.64 L924.8,797.28 L925.3,796.93 L925.8,796.58 L926.3,796.25 L926.8,795.92 L927.3,795.60 L927.8,795.26 L928.3,794.89 L928.8,794.48 L929.3,794.00 L929.8,793.42 L930.3,792.70 L930.8,791.82 L931.3,790.73 L931.8,789.41 L932.3,787.83 L932.8,785.99 L933.3,783.88 L933.8,781.53 L934.3,778.97 L934.8,776.27 L935.3,773.53 L935.8,770.88 L936.3,768.48 L936.8,766.51 L937.3,765.18 L937.8,764.64 L938.3,764.99 L938.8,766.21 L939.3,768.20 L939.8,770.78 L940.3,773.76 L940.8,776.95 L941.3,780.19 L941.8,783.36 L942.3,786.37 L942.8,789.15 L943.3,791.66 L943.8,793.88 L944.3,795.82 L944.8,797.48 L945.3,798.88 L945.8,800.04 L946.3,801.00 L946.8,801.79 L947.3,802.43 L947.8,802.94 L948.3,803.37 L948.8,803.71 L949.3,804.00 L949.8,804.24 L950.3,804.45 L950.8,804.62 L951.3,804.78 L951.8,804.91 L952.3,805.03 L952.8,805.14 L953.3,805.24 L953.8,805.33 L954.3,805.42 L954.8,805.49 L955.3,805.56 L955.8,805.63 L956.3,805.69 L956.8,805.75 L957.3,805.80 L957.8,805.84 L958.3,805.89 L958.8,805.93 L959.3,805.97 L959.8,806.00 L960.3,806.03 L960.8,806.06 L961.3,806.09 L961.8,806.11 L962.3,806.13 L962.8,806.15 L963.3,806.17 L963.8,806.18 L964.3,806.20 L964.8,806.21 L965.3,806.22 L965.8,806.23 L966.3,806.24 L966.8,806.24 L967.3,806.25 L967.8,806.26 L968.3,806.26 L968.8,806.27 L969.3,806.27 L969.8,806.27 L970.3,806.27 L970.8,806.28 L971.3,806.28 L971.8,806.28 L972.3,806.28 L972.8,806.29 L973.3,806.29 L973.8,806.29 L974.3,806.29 L974.8,806.30 L975.3,806.30 L975.8,806.30 L976.3,806.31 L976.8,806.31 L977.3,806.32 L977.8,806.32 L978.3,806.33 L978.8,806.33 L979.3,806.34 L979.8,806.35 L980.3,806.35 L980.8,806.36 L981.3,806.37 L981.8,806.38 L982.3,806.38 L982.8,806.39 L983.3,806.40 L983.8,806.40 L984.3,806.41 L984.8,806.42 L985.3,806.42 L985.8,806.43 L986.3,806.43 L986.8,806.43 L987.3,806.43 L987.8,806.43 L988.3,806.43 L988.8,806.43 L989.3,806.42 L989.8,806.42 L990.3,806.41 L990.8,806.40 L991.3,806.38 L991.8,806.37 L992.3,806.35 L992.8,806.33 L993.3,806.30 L993.8,806.27 L994.3,806.24 L994.8,806.20 L995.3,806.15 L995.8,806.10 L996.3,806.03 L996.8,805.95 L997.3,805.85 L997.8,805.73 L998.3,805.59 L998.8,805.41 L999.3,805.19 L999.8,804.93 L1000.3,804.62 L1000.8,804.24 L1001.3,803.80 L1001.8,803.28 L1002.3,802.69 L1002.8,802.03 L1003.3,801.29 L1003.8,800.49 L1004.3,799.65 L1004.8,798.77 L1005.3,797.90 L1005.8,797.06 L1006.3,796.30 L1006.8,795.68 L1007.3,795.23 L1007.8,795.00 L1008.3,795.02 L1008.8,795.28 L1009.3,795.75 L1009.8,796.39 L1010.3,797.15 L1010.8,797.99 L1011.3,798.85 L1011.8,799.71 L1012.3,800.53 L1012.8,801.31 L1013.3,802.02 L1013.8,802.66 L1014.3,803.22 L1014.8,803.71 L1015.3,804.13 L1015.8,804.48 L1016.3,804.78 L1016.8,805.03 L1017.3,805.23 L1017.8,805.39 L1018.3,805.53 L1018.8,805.64 L1019.3,805.73 L1019.8,805.81 L1020.3,805.87 L1020.8,805.93 L1021.3,805.98 L1021.8,806.02 L1022.3,806.06 L1022.8,806.09 L1023.3,806.13 L1023.8,806.16 L1024.3,806.18 L1024.8,806.21 L1025.3,806.23 L1025.8,806.26 L1026.3,806.28 L1026.8,806.30 L1027.3,806.32 L1027.8,806.34 L1028.3,806.36 L1028.8,806.38 L1029.3,806.40 L1029.8,806.41 L1030.3,806.43 L1030.8,806.44 L1031.3,806.46 L1031.8,806.47 L1032.3,806.49 L1032.8,806.50 L1033.3,806.51 L1033.8,806.53 L1034.3,806.54 L1034.8,806.55 L1035.3,806.56 L1035.8,806.57 L1036.3,806.57 L1036.8,806.58 L1037.3,806.59 L1037.8,806.59 L1038.3,806.60 L1038.8,806.60 L1039.3,806.61 L1039.8,806.61 L1040.3,806.61 L1040.8,806.61 L1041.3,806.61 L1041.8,806.61 L1042.3,806.61 L1042.8,806.61 L1043.3,806.61 L1043.8,806.61 L1044.3,806.61 L1044.8,806.61 L1045.3,806.61 L1045.8,806.61 L1046.3,806.61 L1046.8,806.61 L1047.3,806.61 L1047.8,806.62 L1048.3,806.62 L1048.8,806.62 L1049.3,806.63 L1049.8,806.63 L1050.3,806.64 L1050.8,806.65 L1051.3,806.66 L1051.8,806.66 L1052.3,806.68 L1052.8,806.69 L1053.3,806.70 L1053.8,806.71 L1054.3,806.73 L1054.8,806.74 L1055.3,806.76 L1055.8,806.77 L1056.3,806.79 L1056.8,806.80 L1057.3,806.82 L1057.8,806.84 L1058.3,806.85 L1058.8,806.87 L1059.3,806.89 L1059.8,806.90 L1060.3,806.91 L1060.8,806.93 L1061.3,806.94 L1061.8,806.95 L1062.3,806.96 L1062.8,806.97 L1063.3,806.98 L1063.8,806.99 L1064.3,807.00 L1064.8,807.01 L1065.3,807.01 L1065.8,807.02 L1066.3,807.02 L1066.8,807.02 L1067.3,807.02 L1067.8,807.02 L1068.3,807.02 L1068.8,807.02 L1069.3,807.02 L1069.8,807.02 L1070.3,807.02 L1070.8,807.02 L1071.3,807.02 L1071.8,807.02 L1072.3,807.02 L1072.8,807.01 L1073.3,807.01 L1073.8,807.01 L1074.3,807.01 L1074.8,807.01 L1075.3,807.00 L1075.8,807.00 L1076.3,807.00 L1076.8,807.00 L1077.3,807.00 L1077.8,806.99 L1078.3,806.99 L1078.8,806.99 L1079.3,806.98 L1079.8,806.98 L1080.3,806.98 L1080.8,806.97 L1081.3,806.97 L1081.8,806.97 L1082.3,806.96 L1082.8,806.96 L1083.3,806.95 L1083.8,806.95 L1084.3,806.94 L1084.8,806.93 L1085.3,806.93 L1085.8,806.92 L1086.3,806.91 L1086.8,806.91 L1087.3,806.90 L1087.8,806.89 L1088.3,806.88 L1088.8,806.87 L1089.3,806.86 L1089.8,806.85 L1090.3,806.84 L1090.8,806.83 L1091.3,806.81 L1091.8,806.80 L1092.3,806.79 L1092.8,806.78 L1093.3,806.77 L1093.8,806.76 L1094.3,806.75 L1094.8,806.74 L1095.3,806.73 L1095.8,806.72 L1096.3,806.71 L1096.8,806.70 L1097.3,806.69 L1097.8,806.69 L1098.3,806.68 L1098.8,806.68 L1099.3,806.68 L1099.8,806.67 L1100.3,806.67 L1100.8,806.67 L1101.3,806.68 L1101.8,806.68 L1102.3,806.68 L1102.8,806.69 L1103.3,806.69 L1103.8,806.70 L1104.3,806.71 L1104.8,806.71 L1105.3,806.72 L1105.8,806.73 L1106.3,806.74 L1106.8,806.75 L1107.3,806.76 L1107.8,806.77 L1108.3,806.79 L1108.8,806.80 L1109.3,806.81 L1109.8,806.82 L1110.3,806.83 L1110.8,806.84 L1111.3,806.85 L1111.8,806.86 L1112.3,806.87 L1112.8,806.88 L1113.3,806.89 L1113.8,806.90 L1114.3,806.91 L1114.8,806.92 L1115.3,806.93 L1115.8,806.94 L1116.3,806.95 L1116.8,806.96 L1117.3,806.97 L1117.8,806.98 L1118.3,806.99 L1118.8,807.00 L1119.3,807.01 L1119.8,807.02 L1120.3,807.03 L1120.8,807.04 L1121.3,807.05 L1121.8,807.06 L1122.3,807.07 L1122.8,807.08 L1123.3,807.08 L1123.8,807.09 L1124.3,807.10 L1124.8,807.11 L1125.3,807.12 L1125.8,807.12 L1126.3,807.13 L1126.8,807.13 L1127.3,807.14 L1127.8,807.14 L1128.3,807.14 L1128.8,807.15 L1129.3,807.15 L1129.8,807.15 L1130.3,807.15 L1130.8,807.14 L1131.3,807.14 L1131.8,807.14 L1132.3,807.13 L1132.8,807.12 L1133.3,807.12 L1133.8,807.11 L1134.3,807.10 L1134.8,807.09 L1135.3,807.08 L1135.8,807.07 L1136.3,807.06 L1136.8,807.04 L1137.3,807.03 L1137.8,807.02 L1138.3,807.01 L1138.8,806.99 L1139.3,806.98 L1139.8,806.96 L1140.3,806.95 L1140.8,806.94 L1141.3,806.93 L1141.8,806.91 L1142.3,806.90 L1142.8,806.89 L1143.3,806.88 L1143.8,806.87 L1144.3,806.86 L1144.8,806.85 L1145.3,806.85 L1145.8,806.84 L1146.3,806.83 L1146.8,806.83 L1147.3,806.83 L1147.8,806.82 L1148.3,806.82 L1148.8,806.82 L1149.3,806.82 L1149.8,806.83 L1150.3,806.83 L1150.8,806.83 L1151.3,806.84 L1151.8,806.84 L1152.3,806.85 L1152.8,806.86 L1153.3,806.87 L1153.8,806.88 L1154.3,806.88 L1154.8,806.89 L1155.3,806.90 L1155.8,806.92 L1156.3,806.93 L1156.8,806.94 L1157.3,806.95 L1157.8,806.96 L1158.3,806.97 L1158.8,806.98 L1159.3,806.99 L1159.8,807.00 L1160.3,807.02 L1160.8,807.03 L1161.3,807.04 L1161.8,807.05 L1162.3,807.06 L1162.8,807.06 L1163.3,807.07 L1163.8,807.08 L1164.3,807.09 L1164.8,807.09 L1165.3,807.10 L1165.8,807.10 L1166.3,807.11 L1166.8,807.11 L1167.3,807.12 L1167.8,807.12 L1168.3,807.12 L1168.8,807.12 L1169.3,807.12 L1169.8,807.12 L1170.3,807.11 L1170.8,807.11 L1171.3,807.11 L1171.8,807.10 L1172.3,807.10 L1172.8,807.09 L1173.3,807.09 L1173.8,807.08 L1174.3,807.07 L1174.8,807.07 L1175.3,807.06 L1175.8,807.05 L1176.3,807.04 L1176.8,807.03 L1177.3,807.03 L1177.8,807.02 L1178.3,807.01 L1178.8,807.00 L1179.3,806.99 L1179.8,806.99 L1180.3,806.98 L1180.8,806.97 L1181.3,806.97 L1181.8,806.96 L1182.3,806.96 L1182.8,806.95 L1183.3,806.95 L1183.8,806.95 L1184.3,806.95 L1184.8,806.94 L1185.3,806.94 L1185.8,806.94 L1186.3,806.94 L1186.8,806.95 L1187.3,806.95 L1187.8,806.95 L1188.3,806.95 L1188.8,806.96 L1189.3,806.96 L1189.8,806.97 L1190.3,806.97 L1190.8,806.98 L1191.3,806.98 L1191.8,806.99 L1192.3,806.99 L1192.8,806.99 L1193.3,807.00 L1193.8,807.00 L1194.3,807.01 L1194.8,807.01 L1195.3,807.02 L1195.8,807.02 L1196.3,807.02 L1196.8,807.02 L1197.3,807.03 L1197.8,807.03 L1198.3,807.03 L1198.8,807.03 L1199.3,807.03 L1199.8,807.04 L1200.3,807.04 L1200.8,807.04 L1201.3,807.04 L1201.8,807.04 L1202.3,807.05 L1202.8,807.05 L1203.3,807.05 L1203.8,807.06 L1204.3,807.06 L1204.8,807.07 L1205.3,807.07 L1205.8,807.08 L1206.3,807.09 L1206.8,807.10 L1207.3,807.11 L1207.8,807.12 L1208.3,807.13 L1208.8,807.14 L1209.3,807.15 L1209.8,807.16 L1210.3,807.17 L1210.8,807.18 L1211.3,807.20 L1211.8,807.21 L1212.3,807.22 L1212.8,807.23 L1213.3,807.24 L1213.8,807.25 L1214.3,807.26 L1214.8,807.27 L1215.3,807.28 L1215.8,807.28 L1216.3,807.29 L1216.8,807.29 L1217.3,807.30 L1217.8,807.30" fill="none" stroke="#1a1a1a" stroke-width="1.3" stroke-linejoin="round"/>
<path d="M288.66,813.3 L288.66,813.8 L288.67,814.3 L288.68,814.8 L288.69,815.3 L288.70,815.8 L288.71,816.3 L288.73,816.8 L288.75,817.3 L288.77,817.8 L288.79,818.3 L288.81,818.8 L288.84,819.3 L288.86,819.8 L288.88,820.3 L288.90,820.8 L288.93,821.3 L288.94,821.8 L288.96,822.3 L288.97,822.8 L288.98,823.3 L288.99,823.8 L288.99,824.3 L288.99,824.8 L288.99,825.3 L288.98,825.8 L288.97,826.3 L288.95,826.8 L288.93,827.3 L288.91,827.8 L288.88,828.3 L288.85,828.8 L288.82,829.3 L288.79,829.8 L288.75,830.3 L288.72,830.8 L288.68,831.3 L288.65,831.8 L288.61,832.3 L288.58,832.8 L288.54,833.3 L288.51,833.8 L288.48,834.3 L288.45,834.8 L288.42,835.3 L288.40,835.8 L288.38,836.3 L288.36,836.8 L288.34,837.3 L288.33,837.8 L288.32,838.3 L288.31,838.8 L288.31,839.3 L288.31,839.8 L288.31,840.3 L288.31,840.8 L288.32,841.3 L288.33,841.8 L288.34,842.3 L288.35,842.8 L288.36,843.3 L288.37,843.8 L288.38,844.3 L288.39,844.8 L288.40,845.3 L288.41,845.8 L288.42,846.3 L288.43,846.8 L288.43,847.3 L288.43,847.8 L288.44,848.3 L288.44,848.8 L288.44,849.3 L288.43,849.8 L288.43,850.3 L288.43,850.8 L288.42,851.3 L288.42,851.8 L288.41,852.3 L288.41,852.8 L288.41,853.3 L288.40,853.8 L288.40,854.3 L288.40,854.8 L288.40,855.3 L288.40,855.8 L288.41,856.3 L288.41,856.8 L288.42,857.3 L288.42,857.8 L288.43,858.3 L288.44,858.8 L288.45,859.3 L288.46,859.8 L288.47,860.3 L288.48,860.8 L288.48,861.3 L288.49,861.8 L288.50,862.3 L288.51,862.8 L288.51,863.3 L288.52,863.8 L288.52,864.3 L288.53,864.8 L288.53,865.3 L288.54,865.8 L288.54,866.3 L288.54,866.8 L288.55,867.3 L288.55,867.8 L288.56,868.3 L288.57,868.8 L288.58,869.3 L288.58,869.8 L288.59,870.3 L288.60,870.8 L288.61,871.3 L288.62,871.8 L288.63,872.3 L288.63,872.8 L288.64,873.3 L288.64,873.8 L288.64,874.3 L288.64,874.8 L288.64,875.3 L288.64,875.8 L288.63,876.3 L288.62,876.8 L288.62,877.3 L288.61,877.8 L288.59,878.3 L288.58,878.8 L288.57,879.3 L288.56,879.8 L288.55,880.3 L288.54,880.8 L288.53,881.3 L288.52,881.8 L288.51,882.3 L288.51,882.8 L288.50,883.3 L288.50,883.8 L288.50,884.3 L288.50,884.8 L288.50,885.3 L288.50,885.8 L288.50,886.3 L288.50,886.8 L288.50,887.3 L288.50,887.8 L288.51,888.3 L288.51,888.8 L288.51,889.3 L288.50,889.8 L288.50,890.3 L288.50,890.8 L288.49,891.3 L288.48,891.8 L288.47,892.3 L288.46,892.8 L288.44,893.3 L288.42,893.8 L288.40,894.3 L288.37,894.8 L288.34,895.3 L288.30,895.8 L288.24,896.3 L288.17,896.8 L288.08,897.3 L287.96,897.8 L287.78,898.3 L287.54,898.8 L287.19,899.3 L286.70,899.8 L286.05,900.3 L285.20,900.8 L284.15,901.3 L282.89,901.8 L281.48,902.3 L279.99,902.8 L278.56,903.3 L277.35,903.8 L276.56,904.3 L276.34,904.8 L276.74,905.3 L277.67,905.8 L278.94,906.3 L280.36,906.8 L281.78,907.3 L283.10,907.8 L284.23,908.3 L285.17,908.8 L285.90,909.3 L286.46,909.8 L286.86,910.3 L287.15,910.8 L287.35,911.3 L287.50,911.8 L287.61,912.3 L287.70,912.8 L287.78,913.3 L287.84,913.8 L287.91,914.3 L287.97,914.8 L288.03,915.3 L288.09,915.8 L288.15,916.3 L288.21,916.8 L288.27,917.3 L288.32,917.8 L288.38,918.3 L288.43,918.8 L288.48,919.3 L288.52,919.8 L288.56,920.3 L288.60,920.8 L288.63,921.3 L288.66,921.8 L288.68,922.3 L288.69,922.8 L288.71,923.3 L288.71,923.8 L288.72,924.3 L288.72,924.8 L288.72,925.3 L288.71,925.8 L288.70,926.3 L288.70,926.8 L288.69,927.3 L288.68,927.8 L288.67,928.3 L288.66,928.8 L288.65,929.3 L288.65,929.8 L288.64,930.3 L288.64,930.8 L288.64,931.3 L288.64,931.8 L288.65,932.3 L288.66,932.8 L288.66,933.3 L288.67,933.8 L288.68,934.3 L288.69,934.8 L288.69,935.3 L288.70,935.8 L288.70,936.3 L288.71,936.8 L288.71,937.3 L288.70,937.8 L288.69,938.3 L288.69,938.8 L288.67,939.3 L288.66,939.8 L288.64,940.3 L288.62,940.8 L288.60,941.3 L288.58,941.8 L288.56,942.3 L288.54,942.8 L288.52,943.3 L288.50,943.8 L288.48,944.3 L288.46,944.8 L288.44,945.3 L288.43,945.8 L288.42,946.3 L288.40,946.8 L288.39,947.3 L288.39,947.8 L288.38,948.3 L288.37,948.8 L288.36,949.3 L288.36,949.8 L288.35,950.3 L288.35,950.8 L288.34,951.3 L288.33,951.8 L288.32,952.3 L288.31,952.8 L288.30,953.3 L288.29,953.8 L288.28,954.3 L288.27,954.8 L288.25,955.3 L288.24,955.8 L288.23,956.3 L288.21,956.8 L288.20,957.3 L288.19,957.8 L288.18,958.3 L288.17,958.8 L288.16,959.3 L288.16,959.8 L288.15,960.3 L288.15,960.8 L288.16,961.3 L288.16,961.8 L288.17,962.3 L288.17,962.8 L288.19,963.3 L288.20,963.8 L288.21,964.3 L288.23,964.8 L288.24,965.3 L288.26,965.8 L288.28,966.3 L288.29,966.8 L288.31,967.3 L288.32,967.8 L288.34,968.3 L288.35,968.8 L288.36,969.3 L288.37,969.8 L288.38,970.3 L288.39,970.8 L288.39,971.3 L288.39,971.8 L288.39,972.3 L288.39,972.8 L288.38,973.3 L288.38,973.8 L288.37,974.3 L288.36,974.8 L288.36,975.3 L288.35,975.8 L288.34,976.3 L288.32,976.8 L288.31,977.3 L288.30,977.8 L288.29,978.3 L288.28,978.8 L288.27,979.3 L288.26,979.8 L288.25,980.3 L288.24,980.8 L288.23,981.3 L288.22,981.8 L288.22,982.3 L288.21,982.8 L288.21,983.3 L288.21,983.8 L288.21,984.3 L288.21,984.8 L288.21,985.3 L288.21,985.8 L288.22,986.3 L288.22,986.8 L288.23,987.3 L288.24,987.8 L288.24,988.3 L288.25,988.8 L288.26,989.3 L288.27,989.8 L288.28,990.3 L288.29,990.8 L288.30,991.3 L288.31,991.8 L288.32,992.3 L288.34,992.8 L288.35,993.3 L288.36,993.8 L288.37,994.3 L288.38,994.8 L288.39,995.3 L288.40,995.8 L288.40,996.3 L288.41,996.8 L288.42,997.3 L288.42,997.8 L288.42,998.3 L288.42,998.8 L288.42,999.3 L288.42,999.8 L288.42,1000.3 L288.42,1000.8 L288.42,1001.3 L288.41,1001.8 L288.41,1002.3 L288.40,1002.8 L288.40,1003.3 L288.39,1003.8 L288.39,1004.3 L288.39,1004.8 L288.38,1005.3 L288.38,1005.8 L288.37,1006.3 L288.37,1006.8 L288.37,1007.3 L288.36,1007.8 L288.36,1008.3 L288.36,1008.8 L288.35,1009.3 L288.34,1009.8 L288.34,1010.3 L288.33,1010.8 L288.32,1011.3 L288.30,1011.8 L288.29,1012.3 L288.27,1012.8 L288.25,1013.3 L288.23,1013.8 L288.21,1014.3 L288.19,1014.8 L288.17,1015.3 L288.15,1015.8 L288.12,1016.3 L288.10,1016.8 L288.08,1017.3 L288.05,1017.8 L288.03,1018.3 L288.01,1018.8 L287.99,1019.3 L287.97,1019.8 L287.95,1020.3 L287.93,1020.8 L287.91,1021.3 L287.90,1021.8 L287.88,1022.3 L287.85,1022.8 L287.83,1023.3 L287.80,1023.8 L287.76,1024.3 L287.72,1024.8 L287.67,1025.3 L287.60,1025.8 L287.52,1026.3 L287.42,1026.8 L287.30,1027.3 L287.14,1027.8 L286.95,1028.3 L286.70,1028.8 L286.36,1029.3 L285.87,1029.8 L285.09,1030.3 L283.77,1030.8 L281.44,1031.3 L277.45,1031.8 L271.08,1032.3 L261.85,1032.8 L250.01,1033.3 L236.94,1033.8 L225.49,1034.3 L219.67,1034.8 L222.24,1035.3 L231.91,1035.8 L244.75,1036.3 L257.31,1036.8 L267.65,1037.3 L275.12,1037.8 L279.97,1038.3 L282.87,1038.8 L284.53,1039.3 L285.49,1039.8 L286.08,1040.3 L286.48,1040.8 L286.77,1041.3 L287.00,1041.8 L287.19,1042.3 L287.35,1042.8 L287.47,1043.3 L287.58,1043.8 L287.66,1044.3 L287.73,1044.8 L287.79,1045.3 L287.83,1045.8 L287.86,1046.3 L287.88,1046.8 L287.89,1047.3 L287.89,1047.8 L287.88,1048.3 L287.86,1048.8 L287.83,1049.3 L287.79,1049.8 L287.74,1050.3 L287.68,1050.8 L287.61,1051.3 L287.53,1051.8 L287.42,1052.3 L287.30,1052.8 L287.14,1053.3 L286.95,1053.8 L286.68,1054.3 L286.28,1054.8 L285.62,1055.3 L284.47,1055.8 L282.49,1056.3 L279.22,1056.8 L274.30,1057.3 L267.65,1057.8 L259.81,1058.3 L252.15,1058.8 L246.90,1059.3 L246.31,1059.8 L250.66,1060.3 L257.92,1060.8 L265.74,1061.3 L272.55,1061.8 L277.66,1062.3 L281.05,1062.8 L283.03,1063.3 L284.04,1063.8 L284.43,1064.3 L284.39,1064.8 L283.95,1065.3 L282.95,1065.8 L281.01,1066.3 L277.52,1066.8 L271.77,1067.3 L263.21,1067.8 L251.89,1068.3 L238.94,1068.8 L226.91,1069.3 L219.70,1069.8 L220.59,1070.3 L229.16,1070.8 L241.71,1071.3 L254.56,1071.8 L265.45,1072.3 L273.52,1072.8 L278.87,1073.3 L282.11,1073.8 L283.99,1074.3 L285.06,1074.8 L285.70,1075.3 L286.13,1075.8 L286.44,1076.3 L286.67,1076.8 L286.85,1077.3 L286.98,1077.8 L287.07,1078.3 L287.13,1078.8 L287.15,1079.3 L287.15,1079.8 L287.10,1080.3 L287.03,1080.8 L286.93,1081.3 L286.79,1081.8 L286.63,1082.3 L286.44,1082.8 L286.24,1083.3 L286.02,1083.8 L285.79,1084.3 L285.57,1084.8 L285.37,1085.3 L285.20,1085.8 L285.06,1086.3 L284.98,1086.8 L284.95,1087.3 L284.97,1087.8 L285.04,1088.3 L285.15,1088.8 L285.28,1089.3 L285.42,1089.8 L285.55,1090.3 L285.64,1090.8 L285.67,1091.3 L285.57,1091.8 L285.28,1092.3 L284.70,1092.8 L283.71,1093.3 L282.25,1093.8 L280.32,1094.3 L278.06,1094.8 L275.79,1095.3 L274.02,1095.8 L273.33,1096.3 L273.99,1096.8 L275.71,1097.3 L277.89,1097.8 L279.99,1098.3 L281.61,1098.8 L282.52,1099.3 L282.63,1099.8 L282.07,1100.3 L281.13,1100.8 L280.34,1101.3 L280.25,1101.8 L280.96,1102.3 L282.04,1102.8 L283.02,1103.3 L283.60,1103.8 L283.60,1104.3 L282.84,1104.8 L281.02,1105.3 L277.65,1105.8 L272.16,1106.3 L264.16,1106.8 L253.87,1107.3 L242.48,1107.8 L232.50,1108.3 L227.39,1108.8 L229.56,1109.3 L237.86,1109.8 L248.86,1110.3 L259.54,1110.8 L268.09,1111.3 L273.76,1111.8 L276.38,1112.3 L275.99,1112.8 L272.71,1113.3 L266.91,1113.8 L259.67,1114.3 L253.18,1114.8 L250.56,1115.3 L253.57,1115.8 L260.50,1116.3 L268.31,1116.8 L274.97,1117.3 L279.69,1117.8 L282.56,1118.3 L284.08,1118.8 L284.75,1119.3 L284.87,1119.8 L284.50,1120.3 L283.45,1120.8 L281.41,1121.3 L278.07,1121.8 L273.48,1122.3 L268.33,1122.8 L264.15,1123.3 L262.96,1123.8 L265.48,1124.3 L270.17,1124.8 L274.99,1125.3 L278.65,1125.8 L280.58,1126.3 L280.74,1126.8 L279.46,1127.3 L277.34,1127.8 L275.25,1128.3 L274.32,1128.8 L275.14,1129.3 L277.14,1129.8 L279.29,1130.3 L280.94,1130.8 L281.85,1131.3 L282.14,1131.8 L282.11,1132.3 L282.10,1132.8 L282.34,1133.3 L282.89,1133.8 L283.65,1134.3 L284.48,1134.8 L285.28,1135.3 L285.96,1135.8 L286.51,1136.3 L286.91,1136.8 L287.19,1137.3 L287.38,1137.8 L287.50,1138.3 L287.58,1138.8 L287.63,1139.3 L287.66,1139.8 L287.68,1140.3 L287.70,1140.8 L287.71,1141.3 L287.72,1141.8 L287.72,1142.3 L287.73,1142.8 L287.73,1143.3 L287.73,1143.8 L287.74,1144.3 L287.74,1144.8 L287.75,1145.3 L287.76,1145.8 L287.76,1146.3 L287.77,1146.8 L287.78,1147.3 L287.79,1147.8 L287.79,1148.3 L287.80,1148.8 L287.80,1149.3 L287.79,1149.8 L287.79,1150.3 L287.77,1150.8 L287.75,1151.3 L287.72,1151.8 L287.68,1152.3 L287.62,1152.8 L287.55,1153.3 L287.47,1153.8 L287.36,1154.3 L287.23,1154.8 L287.06,1155.3 L286.85,1155.8 L286.57,1156.3 L286.18,1156.8 L285.57,1157.3 L284.55,1157.8 L282.77,1158.3 L279.74,1158.8 L274.92,1159.3 L267.95,1159.8 L259.00,1160.3 L249.13,1160.8 L240.48,1161.3 L236.08,1161.8 L238.01,1162.3 L245.29,1162.8 L254.96,1163.3 L264.42,1163.8 L272.21,1164.3 L277.85,1164.8 L281.51,1165.3 L283.71,1165.8 L284.98,1166.3 L285.71,1166.8 L286.18,1167.3 L286.50,1167.8 L286.75,1168.3 L286.95,1168.8 L287.12,1169.3 L287.26,1169.8 L287.39,1170.3 L287.50,1170.8 L287.60,1171.3 L287.69,1171.8 L287.77,1172.3 L287.84,1172.8 L287.90,1173.3 L287.96,1173.8 L288.01,1174.3 L288.05,1174.8 L288.08,1175.3 L288.11,1175.8 L288.14,1176.3 L288.15,1176.8 L288.17,1177.3 L288.17,1177.8 L288.17,1178.3 L288.17,1178.8 L288.16,1179.3 L288.14,1179.8 L288.12,1180.3 L288.09,1180.8 L288.05,1181.3 L288.01,1181.8 L287.97,1182.3 L287.92,1182.8 L287.86,1183.3 L287.79,1183.8 L287.72,1184.3 L287.63,1184.8 L287.52,1185.3 L287.36,1185.8 L287.12,1186.3 L286.70,1186.8 L286.00,1187.3 L284.86,1187.8 L283.20,1188.3 L281.10,1188.8 L278.86,1189.3 L277.10,1189.8 L276.60,1190.3 L277.60,1190.8 L279.56,1191.3 L281.72,1191.8 L283.58,1192.3 L284.93,1192.8 L285.77,1193.3 L286.22,1193.8 L286.42,1194.3 L286.47,1194.8 L286.43,1195.3 L286.32,1195.8 L286.16,1196.3 L285.93,1196.8 L285.59,1197.3 L285.07,1197.8 L284.21,1198.3 L282.68,1198.8 L280.00,1199.3 L275.50,1199.8 L268.56,1200.3 L258.95,1200.8 L247.27,1201.3 L235.32,1201.8 L226.29,1202.3 L223.82,1202.8 L229.10,1203.3 L239.56,1203.8 L251.42,1204.3 L261.95,1204.8 L269.64,1205.3 L273.96,1205.8 L274.97,1206.3 L273.14,1206.8 L269.31,1207.3 L264.89,1207.8 L261.96,1208.3 L262.33,1208.8 L265.68,1209.3 L269.89,1209.8 L273.09,1210.3 L274.40,1210.8 L273.97,1211.3 L272.76,1211.8 L272.23,1212.3 L273.25,1212.8 L275.35,1213.3 L277.50,1213.8 L279.00,1214.3 L279.64,1214.8 L279.58,1215.3 L279.18,1215.8 L278.86,1216.3 L278.90,1216.8 L279.37,1217.3 L280.13,1217.8 L280.99,1218.3 L281.79,1218.8 L282.44,1219.3 L282.92,1219.8 L283.24,1220.3 L283.44,1220.8 L283.57,1221.3 L283.69,1221.8 L283.83,1222.3 L284.02,1222.8 L284.25,1223.3 L284.54,1223.8 L284.85,1224.3 L285.19,1224.8 L285.54,1225.3 L285.89,1225.8 L286.22,1226.3 L286.54,1226.8 L286.83,1227.3 L287.10,1227.8 L287.33,1228.3 L287.54,1228.8 L287.72,1229.3 L287.87,1229.8 L288.00,1230.3 L288.11,1230.8 L288.19,1231.3 L288.26,1231.8 L288.31,1232.3 L288.36,1232.8 L288.38,1233.3 L288.40,1233.8 L288.41,1234.3 L288.41,1234.8 L288.41,1235.3 L288.40,1235.8 L288.38,1236.3 L288.37,1236.8 L288.34,1237.3 L288.32,1237.8 L288.29,1238.3 L288.27,1238.8 L288.24,1239.3 L288.21,1239.8 L288.18,1240.3 L288.16,1240.8 L288.13,1241.3 L288.11,1241.8 L288.09,1242.3 L288.07,1242.8 L288.05,1243.3 L288.03,1243.8 L288.02,1244.3 L288.01,1244.8 L287.99,1245.3 L287.98,1245.8 L287.98,1246.3 L287.97,1246.8 L287.96,1247.3 L287.95,1247.8 L287.95,1248.3 L287.94,1248.8 L287.94,1249.3 L287.94,1249.8 L287.94,1250.3 L287.94,1250.8 L287.94,1251.3 L287.95,1251.8 L287.95,1252.3 L287.96,1252.8 L287.97,1253.3 L287.98,1253.8 L287.99,1254.3 L288.00,1254.8 L288.01,1255.3 L288.02,1255.8 L288.03,1256.3 L288.03,1256.8 L288.04,1257.3 L288.04,1257.8 L288.04,1258.3 L288.03,1258.8 L288.03,1259.3 L288.02,1259.8 L288.00,1260.3 L287.99,1260.8 L287.97,1261.3 L287.95,1261.8 L287.93,1262.3 L287.90,1262.8 L287.87,1263.3 L287.84,1263.8 L287.81,1264.3 L287.76,1264.8 L287.70,1265.3 L287.61,1265.8 L287.49,1266.3 L287.33,1266.8 L287.10,1267.3 L286.80,1267.8 L286.41,1268.3 L285.94,1268.8 L285.40,1269.3 L284.82,1269.8 L284.23,1270.3 L283.71,1270.8 L283.33,1271.3 L283.17,1271.8 L283.27,1272.3 L283.60,1272.8 L284.11,1273.3 L284.72,1273.8 L285.34,1274.3 L285.93,1274.8 L286.45,1275.3 L286.90,1275.8 L287.25,1276.3 L287.52,1276.8 L287.72,1277.3 L287.86,1277.8 L287.96,1278.3 L288.03,1278.8 L288.08,1279.3 L288.11,1279.8 L288.13,1280.3 L288.15,1280.8 L288.15,1281.3 L288.16,1281.8 L288.16,1282.3 L288.16,1282.8 L288.16,1283.3 L288.15,1283.8 L288.14,1284.3 L288.13,1284.8 L288.12,1285.3 L288.11,1285.8 L288.10,1286.3 L288.08,1286.8 L288.07,1287.3 L288.05,1287.8 L288.04,1288.3 L288.03,1288.8 L288.01,1289.3 L288.01,1289.8 L288.00,1290.3 L287.99,1290.8 L287.99,1291.3 L288.00,1291.8 L288.00,1292.3 L288.01,1292.8 L288.02,1293.3 L288.04,1293.8 L288.05,1294.3 L288.07,1294.8 L288.10,1295.3 L288.12,1295.8 L288.14,1296.3 L288.17,1296.8 L288.20,1297.3 L288.22,1297.8 L288.25,1298.3 L288.27,1298.8 L288.29,1299.3 L288.31,1299.8 L288.33,1300.3 L288.34,1300.8 L288.36,1301.3 L288.37,1301.8 L288.37,1302.3 L288.37,1302.8 L288.37,1303.3 L288.37,1303.8 L288.36,1304.3 L288.36,1304.8 L288.35,1305.3 L288.34,1305.8 L288.33,1306.3 L288.31,1306.8 L288.30,1307.3 L288.29,1307.8 L288.28,1308.3 L288.27,1308.8 L288.26,1309.3 L288.25,1309.8 L288.24,1310.3 L288.24,1310.8 L288.24,1311.3 L288.24,1311.8 L288.24,1312.3 L288.25,1312.8 L288.26,1313.3 L288.28,1313.8 L288.30,1314.3 L288.32,1314.8 L288.35,1315.3 L288.38,1315.8 L288.41,1316.3 L288.45,1316.8 L288.48,1317.3 L288.52,1317.8 L288.56,1318.3 L288.60,1318.8 L288.64,1319.3 L288.68,1319.8 L288.71,1320.3 L288.74,1320.8 L288.77,1321.3 L288.79,1321.8 L288.81,1322.3 L288.82,1322.8 L288.82,1323.3 L288.82,1323.8 L288.82,1324.3 L288.80,1324.8 L288.79,1325.3 L288.77,1325.8 L288.75,1326.3 L288.72,1326.8 L288.69,1327.3 L288.66,1327.8 L288.63,1328.3 L288.60,1328.8 L288.57,1329.3 L288.54,1329.8 L288.51,1330.3 L288.49,1330.8 L288.47,1331.3 L288.45,1331.8 L288.44,1332.3 L288.42,1332.8 L288.42,1333.3 L288.41,1333.8 L288.41,1334.3 L288.41,1334.8 L288.41,1335.3 L288.42,1335.8 L288.42,1336.3 L288.43,1336.8 L288.44,1337.3 L288.46,1337.8 L288.47,1338.3 L288.48,1338.8 L288.50,1339.3 L288.51,1339.8 L288.53,1340.3 L288.54,1340.8 L288.55,1341.3 L288.57,1341.8 L288.58,1342.3 L288.59,1342.8 L288.59,1343.3 L288.60,1343.8 L288.61,1344.3 L288.61,1344.8" fill="none" stroke="#1a1a1a" stroke-width="1.3" stroke-linejoin="round"/>
<path d="M847,1188 850,1185 856,1184 861,1182 865,1180.5 867,1184 867.5,1192 870,1198 871,1202 868,1206 865.5,1210 864,1218 862,1227 858,1228 851,1229 848,1228 846,1210Z" fill="#111" stroke="#111" stroke-width="1.2" stroke-linejoin="round"/>
<path d="M801.5,884.1 800.0,884.3 798.5,883.6 797.8,883.0 797.6,882.5 797.7,881.5 798.5,880.5 799.5,879.7 800.5,879.4 802.5,879.8 802.6,879.0 803.5,878.1 804.1,878.0 804.0,877.9 801.0,877.8 800.0,879.1 798.5,879.5 796.5,879.7 794.5,879.3 792.6,878.5 791.8,877.5 791.6,876.0 791.9,875.0 792.2,874.5 793.1,874.0 795.5,873.4 797.0,873.2 799.0,873.3 800.5,872.3 801.5,872.0 803.0,872.2 806.3,873.5 807.4,874.5 807.8,876.0 807.5,876.8 806.9,877.5 809.0,877.8 810.5,878.3 811.5,879.0 812.1,880.0 812.0,880.9 811.5,881.4 808.5,882.9 806.5,883.2 803.5,882.5 802.5,883.5 801.5,884.1 M888.5,913.6 884.0,913.9 880.5,913.7 878.0,913.4 876.5,912.9 871.0,910.1 870.4,909.5 870.0,908.5 869.7,904.5 870.2,902.5 871.2,900.5 872.5,899.5 874.0,898.9 882.5,897.1 891.5,898.3 893.0,898.8 895.0,900.1 897.2,902.0 898.0,903.0 898.6,904.0 898.6,905.5 897.0,909.0 896.0,910.4 894.5,911.4 888.5,913.6 M838.5,936.5 837.5,936.0 835.5,934.4 834.5,934.1 834.0,934.2 832.5,935.4 831.5,935.8 827.5,935.8 826.5,935.6 824.5,934.1 823.4,933.0 822.8,931.5 823.0,930.0 823.8,929.0 825.5,927.6 826.5,926.5 827.5,926.0 828.5,926.3 830.0,927.4 831.0,927.6 833.5,927.4 836.0,926.4 837.0,926.1 838.0,926.2 839.5,926.7 841.8,928.0 845.0,930.7 845.7,931.5 845.9,932.5 845.7,933.0 845.0,933.5 844.0,933.3 842.5,932.6 841.5,932.8 840.2,934.0 839.0,936.3 838.5,936.5 M846.0,940.2 845.0,940.1 844.5,939.7 844.2,939.0 844.3,938.0 845.0,937.5 846.0,937.6 846.7,938.5 846.7,939.5 846.0,940.2 M962.5,944.5 961.0,944.5 960.0,944.1 959.5,943.5 959.5,943.0 960.0,942.5 961.5,941.9 962.5,941.7 963.7,942.0 964.2,942.5 964.5,943.0 964.5,943.5 964.0,944.1 962.5,944.5 M853.0,955.7 851.5,955.8 850.0,955.1 849.3,954.0 849.0,952.5 849.2,951.0 850.0,949.2 851.5,947.5 852.5,947.1 853.5,947.2 854.5,948.0 855.1,949.5 855.4,951.5 855.3,953.0 854.9,954.0 854.0,955.1 853.0,955.7 M940.0,986.5 937.5,986.7 935.5,986.4 934.9,986.0 934.4,985.5 934.4,984.5 935.4,983.5 936.5,983.2 938.0,983.1 939.7,983.5 940.7,984.0 941.3,985.0 940.9,986.0 940.0,986.5 M861.5,1015.5 860.5,1015.6 859.3,1015.0 859.0,1014.0 859.3,1013.5 859.8,1013.0 861.0,1012.7 862.0,1013.0 862.4,1013.5 862.5,1014.5 862.2,1015.0 861.5,1015.5 M865.5,1044.6 863.0,1044.9 858.0,1044.8 853.5,1044.3 851.5,1043.8 849.0,1042.6 847.5,1041.5 846.4,1040.0 846.3,1038.5 846.8,1037.5 847.6,1036.5 849.0,1035.5 851.0,1034.4 856.0,1033.0 862.0,1032.5 860.0,1032.0 858.5,1031.4 857.4,1030.5 856.9,1029.5 857.1,1028.5 857.8,1027.5 859.5,1026.6 861.5,1026.2 867.0,1026.1 868.5,1026.4 869.9,1027.0 872.3,1029.0 872.5,1029.5 872.4,1030.0 871.9,1030.5 869.0,1032.3 868.2,1032.5 871.0,1032.6 877.5,1032.4 880.0,1032.7 882.0,1033.1 884.3,1034.0 885.2,1034.5 886.0,1035.5 886.0,1036.5 885.3,1037.5 883.5,1038.7 881.5,1039.7 875.0,1042.1 870.0,1043.7 865.5,1044.6 M880.0,1051.5 878.5,1051.2 877.4,1050.0 877.2,1049.0 877.4,1048.5 877.7,1048.0 878.5,1047.5 879.5,1047.4 881.0,1047.7 882.0,1048.1 882.9,1049.0 883.0,1049.5 882.8,1050.0 882.3,1050.5 881.0,1051.2 880.0,1051.5 M845.5,1069.5 844.0,1069.7 843.0,1069.5 841.9,1069.0 840.9,1068.0 840.8,1067.0 841.3,1066.0 842.5,1065.0 843.4,1064.5 836.0,1063.5 831.5,1062.1 830.0,1061.2 828.9,1060.0 828.2,1058.5 828.3,1057.5 828.9,1056.5 830.0,1055.6 831.5,1054.8 836.5,1053.2 843.5,1052.3 851.5,1052.8 856.5,1054.2 858.0,1054.9 858.8,1055.5 859.7,1056.5 860.3,1058.0 860.1,1059.5 859.3,1060.5 858.0,1061.5 855.5,1062.6 852.5,1063.6 850.5,1064.0 849.4,1064.5 850.1,1065.0 850.6,1065.5 850.7,1066.0 850.5,1066.6 849.6,1067.5 848.0,1068.5 845.5,1069.5 M873.0,1082.0 870.0,1081.8 868.0,1081.2 866.6,1080.0 866.2,1079.0 866.2,1078.5 866.5,1077.8 867.5,1077.1 870.5,1076.0 868.9,1074.0 868.3,1072.5 868.0,1070.0 868.2,1069.0 868.6,1068.0 870.0,1066.5 874.0,1064.5 879.0,1063.1 883.0,1063.1 885.5,1063.6 890.5,1065.7 890.8,1065.5 891.1,1064.0 891.7,1063.0 894.0,1061.5 897.5,1060.4 903.0,1060.1 908.5,1060.5 910.0,1060.8 911.6,1061.5 913.9,1063.0 915.3,1064.5 915.4,1065.5 915.2,1066.5 914.6,1067.5 914.0,1068.2 912.0,1069.2 908.0,1070.4 904.5,1070.8 901.5,1070.7 893.0,1068.7 893.1,1071.0 892.7,1072.5 891.3,1075.0 889.9,1076.5 888.5,1077.2 883.5,1078.7 877.8,1079.0 877.9,1080.0 877.6,1080.5 877.0,1081.0 875.5,1081.5 873.0,1082.0 M831.0,1080.1 830.0,1079.9 828.5,1078.6 825.4,1074.0 823.8,1072.5 823.1,1071.5 823.0,1070.0 822.3,1068.5 822.3,1067.0 822.9,1065.0 824.0,1064.0 825.0,1063.7 826.0,1063.8 828.0,1064.4 830.0,1064.6 830.5,1064.9 833.5,1068.6 834.5,1071.5 835.5,1073.0 835.5,1074.0 835.1,1074.5 832.5,1076.5 832.0,1077.5 831.6,1079.5 831.0,1080.1 M861.5,1080.6 860.5,1080.7 859.0,1080.5 857.5,1079.9 856.5,1079.2 856.0,1079.1 854.5,1079.5 853.5,1079.5 849.5,1078.6 846.5,1079.1 845.0,1078.6 844.2,1078.0 843.8,1077.5 843.8,1077.0 844.7,1075.0 845.0,1074.0 845.0,1073.0 844.7,1072.0 845.0,1071.8 846.5,1071.8 852.5,1071.0 854.0,1071.2 856.0,1072.1 856.5,1072.1 857.0,1070.8 857.5,1070.1 858.5,1069.7 862.0,1069.4 864.8,1070.0 865.6,1070.5 866.2,1071.5 866.9,1074.0 866.8,1075.0 865.9,1076.0 864.5,1076.5 864.2,1077.0 864.2,1078.0 863.8,1079.0 862.8,1080.0 861.5,1080.6 M913.0,1075.0 912.0,1075.0 910.5,1074.5 909.7,1074.0 909.4,1073.5 909.4,1073.0 909.8,1072.5 910.5,1072.1 912.4,1071.5 913.7,1071.5 914.9,1072.0 915.7,1073.0 915.5,1074.0 914.5,1074.7 913.0,1075.0 M824.0,1083.7 823.0,1083.8 820.0,1083.5 817.0,1083.6 812.5,1082.6 809.5,1081.6 808.4,1081.0 807.7,1080.0 807.5,1078.5 808.0,1077.6 808.8,1077.0 813.5,1075.3 819.0,1074.5 821.5,1074.6 821.9,1075.0 822.5,1075.1 823.0,1075.5 824.5,1076.2 825.7,1077.5 826.6,1079.0 826.7,1080.0 826.2,1081.5 825.1,1083.0 824.0,1083.7 M866.5,1102.5 865.0,1102.7 863.5,1102.5 860.0,1101.4 858.5,1100.7 856.0,1098.9 855.0,1098.0 854.5,1096.5 854.2,1094.5 854.0,1094.0 852.5,1093.7 850.0,1093.8 846.0,1093.5 844.9,1093.0 843.0,1091.1 842.0,1090.6 840.5,1090.7 838.0,1091.8 836.0,1091.6 834.5,1091.0 833.3,1090.0 833.0,1089.0 833.1,1088.0 834.0,1087.0 835.0,1086.7 836.5,1086.8 839.5,1087.9 841.0,1088.2 842.5,1087.9 846.0,1086.5 847.5,1086.5 851.0,1087.3 855.5,1086.0 859.5,1086.8 861.5,1087.5 862.5,1087.7 868.0,1087.0 871.0,1087.7 877.5,1086.6 879.0,1086.5 880.5,1086.7 883.0,1087.7 885.9,1088.0 888.8,1089.5 888.5,1090.1 885.5,1091.7 879.5,1092.8 878.5,1093.2 878.4,1093.5 878.9,1094.5 878.9,1095.5 878.4,1097.5 877.6,1098.5 874.5,1101.2 872.5,1101.8 869.0,1102.0 866.5,1102.5 M893.0,1090.0 891.5,1089.5 891.0,1088.9 890.6,1088.0 890.7,1087.0 891.0,1086.5 891.5,1086.0 892.5,1085.6 893.5,1085.7 894.0,1086.0 894.6,1086.5 895.1,1087.5 895.1,1088.5 894.5,1089.5 894.0,1089.8 893.0,1090.0 M1009.5,1099.0 1007.0,1099.1 1004.0,1098.7 1000.0,1097.8 997.9,1097.0 995.5,1095.8 994.5,1094.9 993.9,1093.5 994.2,1092.0 994.9,1091.0 996.0,1090.1 999.0,1088.6 1004.0,1087.1 1008.0,1086.7 1010.5,1087.0 1016.5,1088.7 1019.0,1089.7 1020.0,1090.3 1020.6,1091.0 1021.3,1092.5 1021.3,1093.5 1020.4,1095.0 1018.5,1096.8 1016.5,1097.7 1009.5,1099.0 M840.5,1103.1 839.5,1103.3 839.0,1103.1 837.2,1101.5 836.0,1101.2 833.0,1101.3 830.0,1101.1 827.0,1101.9 824.5,1101.9 821.0,1102.3 819.5,1102.2 817.0,1101.7 813.0,1101.6 811.0,1100.8 808.5,1100.6 807.5,1100.3 807.0,1100.0 806.3,1099.0 806.1,1097.5 806.5,1096.8 807.5,1096.3 811.0,1097.2 815.7,1097.5 816.5,1097.0 816.7,1096.5 816.8,1095.5 816.5,1094.9 814.5,1095.4 814.0,1095.0 814.1,1094.5 815.0,1094.0 815.7,1094.0 816.5,1094.4 817.0,1094.3 819.3,1092.5 821.0,1092.1 823.5,1092.3 826.0,1092.2 829.5,1093.5 832.0,1093.6 836.0,1094.3 839.0,1094.2 840.5,1094.4 845.5,1095.2 846.5,1095.5 847.2,1096.0 847.6,1096.5 847.7,1097.5 847.5,1098.5 846.9,1099.5 846.3,1100.0 843.0,1101.5 840.5,1103.1 M895.0,1116.5 892.0,1116.9 889.5,1116.9 883.5,1116.2 880.5,1115.2 876.5,1112.7 875.3,1111.5 874.9,1110.5 874.7,1109.5 874.8,1108.5 875.3,1107.0 876.4,1105.5 877.5,1104.6 881.5,1102.4 885.5,1100.9 889.5,1098.0 891.5,1096.9 893.5,1096.1 896.5,1095.6 899.0,1095.7 902.5,1096.8 906.5,1098.7 907.0,1097.6 907.5,1097.2 908.5,1097.0 909.7,1097.5 910.1,1098.0 910.0,1099.0 909.5,1099.5 908.5,1100.0 911.5,1101.3 913.0,1102.5 913.6,1104.0 913.4,1105.0 912.9,1106.0 909.5,1109.0 907.2,1111.5 904.0,1113.8 902.0,1114.8 899.5,1115.7 895.0,1116.5 M952.0,1099.2 950.5,1099.4 949.3,1099.0 948.8,1098.5 948.6,1097.5 949.0,1096.9 949.9,1096.5 951.0,1096.5 952.0,1096.7 953.0,1097.5 953.1,1098.0 952.9,1098.5 952.0,1099.2 M856.5,1147.2 855.5,1147.1 853.0,1146.4 850.0,1146.2 847.0,1144.6 846.0,1144.3 844.6,1144.5 843.0,1145.8 842.5,1145.7 841.5,1144.8 840.5,1144.2 837.5,1143.6 836.0,1143.8 834.0,1145.0 833.0,1145.0 832.2,1144.5 831.5,1143.0 830.5,1142.2 829.0,1141.8 827.5,1142.0 825.5,1141.4 824.5,1141.6 821.0,1142.8 819.5,1145.0 818.5,1145.4 818.0,1145.3 817.5,1145.0 816.9,1144.0 816.8,1143.0 817.1,1140.5 816.6,1139.0 815.1,1136.5 815.0,1136.0 815.1,1135.0 817.3,1131.5 818.0,1130.9 819.5,1130.2 820.2,1129.5 820.4,1128.0 822.6,1123.0 822.9,1120.5 823.5,1119.5 826.5,1116.6 827.5,1116.1 828.5,1116.0 829.0,1116.3 830.3,1118.0 831.0,1118.5 834.0,1119.4 835.0,1119.1 837.0,1117.4 838.0,1116.9 841.0,1117.6 842.0,1117.6 843.2,1115.5 844.0,1114.7 845.0,1112.3 846.0,1111.1 847.0,1110.4 849.1,1109.5 852.0,1107.7 854.5,1107.1 857.5,1107.1 859.5,1107.1 864.0,1107.7 865.0,1108.2 868.5,1110.5 869.5,1111.5 870.4,1113.0 871.0,1115.0 871.1,1116.0 870.8,1117.0 869.9,1118.0 866.5,1120.2 861.5,1121.8 858.0,1122.5 857.4,1123.0 857.8,1124.0 857.3,1125.0 856.5,1125.5 854.5,1126.3 853.9,1127.5 853.1,1128.0 852.5,1128.0 851.5,1127.6 851.0,1127.0 851.0,1126.5 851.5,1126.1 853.3,1125.5 852.8,1123.0 853.1,1122.0 852.4,1121.5 851.5,1121.3 850.9,1121.0 850.2,1122.0 849.9,1125.0 849.1,1127.0 849.2,1129.0 847.7,1133.0 849.0,1135.4 850.0,1136.2 851.0,1136.2 853.0,1135.7 854.0,1135.7 856.0,1136.1 856.8,1136.5 857.4,1137.0 857.8,1138.0 858.3,1141.0 858.1,1142.0 857.1,1144.0 857.3,1146.5 856.9,1147.0 856.5,1147.2 M822.0,1116.0 821.0,1116.2 820.0,1116.1 819.6,1116.0 819.2,1115.5 819.4,1115.0 820.4,1114.5 822.0,1114.5 822.8,1115.0 822.8,1115.5 822.0,1116.0 M817.0,1119.0 816.0,1119.1 814.9,1118.5 814.7,1118.0 814.7,1117.5 815.0,1117.0 815.5,1116.8 816.5,1116.7 817.0,1116.7 817.5,1117.1 817.9,1117.5 817.8,1118.5 817.0,1119.0 M934.5,1137.5 930.5,1137.7 924.5,1137.0 921.0,1135.4 917.0,1134.5 914.5,1133.1 913.5,1132.9 911.5,1132.8 910.5,1132.5 909.0,1130.8 907.0,1127.5 906.6,1126.5 906.6,1125.5 907.6,1121.5 909.2,1120.0 912.5,1119.0 914.0,1118.9 916.0,1119.4 918.0,1119.4 920.0,1119.2 923.5,1118.1 926.0,1118.0 930.0,1118.6 933.0,1118.5 937.4,1119.0 941.5,1119.2 945.5,1119.9 947.5,1120.4 949.5,1121.3 952.0,1122.7 953.4,1124.0 953.9,1125.0 953.9,1126.0 952.9,1128.0 951.0,1130.2 948.5,1132.3 945.5,1135.2 944.5,1135.8 943.5,1136.1 934.5,1137.5 M878.5,1150.8 878.0,1150.9 877.0,1150.8 874.0,1149.2 873.0,1149.0 871.5,1149.4 869.0,1150.5 868.0,1150.5 865.0,1150.0 864.0,1149.6 863.3,1149.0 861.4,1146.5 861.3,1146.0 861.4,1145.0 862.5,1143.8 864.0,1143.4 865.5,1143.7 867.0,1143.7 868.5,1143.1 868.9,1142.5 867.9,1139.0 868.1,1137.5 867.0,1137.3 866.7,1137.0 866.0,1136.9 864.5,1136.2 864.0,1136.6 863.5,1137.3 863.0,1137.6 861.8,1137.0 860.9,1136.0 861.0,1135.5 861.5,1135.3 863.3,1135.0 862.4,1133.0 861.4,1129.5 861.4,1128.0 861.7,1126.5 863.3,1123.5 864.2,1122.5 865.5,1121.4 866.5,1120.8 868.0,1120.5 869.5,1120.5 871.0,1120.7 873.0,1121.6 874.9,1123.5 876.1,1125.5 876.4,1127.0 876.4,1131.5 876.0,1133.0 876.3,1137.0 876.6,1137.5 877.0,1137.8 881.5,1137.8 884.0,1137.5 883.4,1135.0 883.5,1134.0 884.0,1133.4 886.0,1132.4 886.9,1131.5 886.9,1131.0 886.7,1130.5 884.5,1128.3 883.5,1128.0 882.0,1128.2 881.5,1128.0 880.0,1126.5 879.8,1125.5 880.2,1124.5 881.0,1123.6 882.0,1123.2 882.9,1123.5 883.4,1124.0 884.0,1126.1 884.5,1126.8 885.5,1126.8 886.5,1126.4 888.5,1124.7 889.0,1124.4 889.5,1124.4 890.2,1125.0 891.5,1127.7 892.0,1127.9 893.5,1127.5 894.5,1126.8 896.5,1124.8 897.0,1124.6 897.5,1124.7 898.0,1125.4 898.3,1127.0 898.8,1128.0 900.9,1130.5 901.2,1131.5 901.1,1132.5 901.5,1132.6 902.0,1132.2 903.0,1131.8 904.5,1131.9 906.3,1132.5 907.5,1133.5 907.8,1134.0 907.8,1135.0 907.3,1136.0 906.5,1136.8 905.0,1137.4 903.5,1137.4 902.0,1136.8 901.0,1135.9 900.9,1136.0 901.0,1138.0 900.5,1139.2 899.5,1139.9 897.5,1140.6 896.0,1141.8 895.0,1142.3 894.0,1142.2 893.5,1141.9 889.0,1139.2 886.0,1138.5 885.4,1138.5 885.2,1140.0 885.4,1141.0 886.6,1143.5 888.5,1145.5 888.8,1146.5 888.7,1147.0 888.0,1147.5 887.5,1147.5 885.0,1146.3 884.0,1146.4 882.5,1147.1 881.0,1148.1 879.0,1150.4 878.5,1150.8 M813.0,1122.5 812.0,1122.5 811.0,1122.3 810.5,1122.0 810.2,1121.5 810.5,1121.0 811.5,1120.7 813.5,1121.0 814.2,1121.5 814.1,1122.0 813.0,1122.5 M838.5,1135.5 842.5,1134.7 844.0,1134.0 844.3,1133.5 841.5,1129.0 841.0,1128.6 840.5,1128.6 840.0,1129.0 839.5,1129.8 838.8,1133.0 838.3,1133.5 836.4,1134.5 836.4,1135.0 837.0,1135.4 838.5,1135.5 M830.1,1133.5 830.5,1133.0 830.6,1132.5 830.0,1131.6 829.0,1131.2 828.0,1131.2 827.5,1131.5 827.3,1132.0 827.4,1132.5 828.5,1133.5 829.5,1133.8 830.1,1133.5 M830.6,1140.0 830.7,1139.0 830.5,1138.5 829.9,1139.0 829.5,1140.0 830.0,1140.4 830.6,1140.0 M860.5,1153.2 859.5,1153.4 859.0,1153.3 858.7,1153.0 858.5,1152.5 859.0,1151.6 860.0,1151.0 861.0,1151.2 861.5,1151.7 861.4,1152.5 860.5,1153.2 M889.5,1171.0 887.5,1170.9 885.0,1170.3 881.0,1169.7 879.2,1169.0 877.7,1168.0 876.3,1166.5 875.7,1165.5 875.3,1164.0 875.3,1162.0 875.7,1161.0 876.4,1160.0 878.2,1158.5 880.5,1157.2 884.0,1156.0 887.0,1154.5 890.5,1153.1 893.0,1152.4 895.5,1152.0 900.5,1151.7 905.0,1152.2 908.5,1153.4 909.6,1154.0 910.7,1155.0 911.1,1156.0 911.2,1156.5 909.6,1160.0 909.7,1163.5 909.0,1165.0 907.5,1166.5 904.0,1168.6 901.0,1169.7 894.5,1170.9 892.0,1170.8 889.5,1171.0 M830.5,1155.0 829.0,1155.4 827.5,1155.0 826.5,1154.0 826.4,1153.5 826.7,1153.0 827.3,1152.5 828.0,1152.3 829.0,1152.3 830.0,1152.7 831.0,1153.5 831.1,1154.0 831.0,1154.5 830.5,1155.0 M816.5,1156.1 814.5,1156.4 811.7,1156.0 810.7,1155.5 810.3,1155.0 810.3,1154.5 811.0,1153.8 812.5,1153.3 814.5,1153.2 816.7,1153.5 817.8,1154.0 818.1,1154.5 818.1,1155.0 817.8,1155.5 816.5,1156.1 M857.0,1161.5 855.0,1161.8 853.3,1161.5 852.6,1161.0 852.3,1160.5 852.4,1159.5 853.2,1158.5 854.5,1157.8 856.0,1157.5 857.5,1157.8 858.5,1158.4 859.0,1159.0 859.2,1160.0 858.5,1160.9 857.0,1161.5 M894.5,1182.0 893.5,1181.6 892.8,1181.0 891.8,1178.0 892.5,1173.0 893.0,1172.0 894.0,1171.5 895.0,1171.8 896.0,1172.8 896.6,1174.0 896.8,1175.5 896.7,1177.0 896.1,1179.0 895.6,1181.5 895.0,1182.0 894.5,1182.0 M869.5,1228.5 866.0,1228.4 861.0,1227.3 859.0,1228.5 858.0,1228.7 856.5,1228.6 855.0,1228.1 853.5,1227.4 852.3,1226.5 851.4,1225.5 848.7,1221.0 847.9,1219.0 847.3,1217.0 846.4,1211.5 846.0,1207.0 846.0,1200.5 846.1,1199.0 846.9,1196.0 847.1,1193.0 847.0,1192.9 846.8,1193.5 845.7,1194.5 844.0,1195.6 842.0,1196.3 840.5,1196.4 838.5,1196.2 837.0,1195.6 835.6,1194.5 834.7,1193.0 834.4,1191.5 834.7,1189.5 836.0,1187.5 837.5,1186.1 837.9,1186.0 837.5,1185.0 838.0,1184.0 839.4,1183.5 841.0,1183.4 842.5,1183.8 843.8,1184.5 844.2,1185.0 844.7,1186.5 845.8,1187.5 846.8,1189.0 847.2,1190.0 847.5,1191.4 849.3,1187.0 851.5,1183.3 853.0,1181.6 855.0,1180.5 861.0,1179.3 862.5,1179.3 864.5,1179.7 867.0,1178.8 871.0,1178.4 872.5,1178.6 873.5,1179.1 875.3,1181.0 875.9,1182.0 876.3,1183.0 876.1,1184.0 875.8,1184.5 875.1,1185.0 874.0,1185.5 870.4,1186.0 871.7,1189.0 872.4,1192.5 872.2,1195.0 871.0,1200.6 874.0,1200.0 878.0,1200.5 881.5,1199.9 883.5,1200.0 885.8,1200.5 887.0,1201.0 887.9,1202.0 888.4,1203.5 888.3,1204.0 887.8,1204.5 886.8,1205.0 885.1,1205.5 882.5,1205.9 875.5,1206.5 874.0,1206.3 870.5,1205.3 870.0,1205.4 869.1,1210.5 869.5,1210.7 873.0,1211.0 875.5,1211.7 877.0,1212.5 877.5,1213.0 877.8,1213.5 877.8,1214.0 877.5,1214.5 876.8,1215.0 875.0,1215.7 871.5,1216.3 867.9,1216.5 867.8,1217.0 868.0,1217.2 871.5,1217.5 874.5,1218.3 875.5,1219.0 875.7,1219.5 875.7,1220.0 875.0,1221.0 874.0,1221.7 872.5,1222.4 870.5,1222.8 866.0,1222.7 865.5,1222.8 865.3,1223.0 865.5,1223.3 866.0,1223.4 870.0,1223.4 871.0,1223.6 872.1,1224.0 873.2,1225.0 873.5,1226.0 873.0,1227.1 871.5,1228.0 869.5,1228.5 M784.5,1266.6 782.5,1267.0 781.0,1266.8 775.8,1265.0 775.0,1264.2 774.5,1263.0 774.6,1261.5 775.0,1260.5 776.0,1259.7 777.0,1259.3 781.5,1258.7 784.0,1259.1 787.0,1260.5 788.0,1261.4 788.7,1262.5 788.9,1263.5 788.8,1264.0 787.8,1265.0 784.5,1266.6 M534.5,1280.5 530.0,1280.7 528.0,1280.4 526.5,1279.8 524.0,1278.0 523.1,1277.0 522.8,1275.5 523.1,1273.5 524.0,1272.0 525.1,1271.0 526.5,1270.2 528.8,1269.5 530.5,1269.2 535.0,1269.1 537.0,1269.3 539.7,1270.0 542.0,1271.1 543.0,1272.4 543.3,1274.0 543.2,1276.0 542.5,1277.5 541.4,1278.5 539.5,1279.4 537.0,1280.2 534.5,1280.5 M806.0,880.1 805.5,880.2 804.5,880.0 804.1,879.5 804.5,878.9 805.5,878.7 806.0,878.8 806.3,879.0 806.5,879.5 806.0,880.1 M886.5,912.5 883.5,912.6 879.0,911.6 877.5,911.0 873.5,908.4 873.0,908.0 872.5,907.2 872.1,905.0 872.2,903.0 872.9,901.5 874.4,900.5 877.0,899.6 883.0,898.7 888.0,899.1 890.0,899.6 893.0,900.8 895.5,902.5 896.3,903.5 896.5,905.0 895.9,906.5 894.5,908.6 893.0,909.8 889.5,911.6 888.0,912.2 886.5,912.5 M837.5,932.1 837.0,932.3 836.0,932.3 835.3,932.0 835.3,931.5 836.0,931.3 837.0,931.3 837.5,931.5 837.5,932.1 M861.0,1014.7 860.3,1014.5 860.2,1014.0 860.5,1013.7 861.0,1013.6 861.5,1014.0 861.3,1014.5 861.0,1014.7 M867.5,1031.1 865.5,1031.4 863.5,1031.0 862.1,1030.5 861.3,1030.0 860.9,1029.5 860.9,1029.0 861.1,1028.5 862.0,1028.0 866.0,1027.6 867.5,1027.7 868.2,1028.0 868.8,1028.5 869.2,1029.5 868.6,1030.5 867.5,1031.1 M864.5,1044.1 862.5,1044.2 857.5,1044.1 854.5,1043.7 852.0,1043.1 849.9,1042.0 848.8,1041.0 848.1,1039.5 848.2,1038.0 849.3,1036.5 851.5,1035.0 855.5,1033.8 858.0,1033.4 866.5,1033.2 871.0,1033.4 878.5,1033.1 880.5,1033.5 882.1,1034.0 883.5,1034.7 884.4,1035.5 884.5,1036.0 884.2,1037.0 883.0,1038.0 881.5,1038.8 870.0,1042.9 864.5,1044.1 M849.0,1063.5 842.5,1063.7 838.0,1063.2 836.0,1062.8 832.5,1061.6 831.0,1060.8 829.8,1059.5 829.5,1058.0 829.9,1057.0 830.4,1056.5 831.5,1055.8 833.0,1055.1 837.0,1053.8 843.0,1053.0 849.5,1053.2 851.5,1053.5 856.0,1054.8 857.0,1055.2 858.0,1056.0 858.7,1057.0 858.9,1058.5 858.5,1059.5 857.7,1060.5 856.0,1061.5 853.0,1062.8 851.0,1063.3 849.0,1063.5 M906.0,1069.5 901.5,1069.4 898.0,1068.7 894.2,1067.0 893.4,1066.0 893.4,1065.0 893.9,1064.0 894.9,1063.0 896.4,1062.0 898.0,1061.5 903.5,1061.4 907.5,1061.6 909.0,1061.8 910.5,1062.8 912.1,1064.5 912.6,1065.5 912.5,1066.5 911.8,1067.5 910.2,1068.5 908.5,1069.1 906.0,1069.5 M879.0,1078.0 876.5,1077.8 874.2,1077.0 872.3,1076.0 870.7,1074.5 869.9,1073.0 869.4,1070.0 869.8,1068.5 870.7,1067.5 872.5,1066.3 875.0,1065.0 878.5,1064.1 880.5,1063.9 883.5,1064.1 885.0,1064.5 889.0,1066.2 890.8,1067.5 891.6,1069.0 891.7,1071.0 890.8,1073.5 890.2,1074.5 889.3,1075.5 887.5,1076.5 883.5,1077.8 879.0,1078.0 M845.5,1067.6 844.5,1067.8 844.0,1067.6 843.9,1067.0 845.0,1066.3 846.0,1066.2 846.5,1066.3 846.6,1066.5 846.4,1067.0 845.5,1067.6 M861.5,1079.0 860.0,1079.2 858.5,1078.6 857.6,1077.5 857.7,1076.5 858.2,1076.0 859.2,1075.5 860.0,1075.4 861.0,1075.8 861.8,1076.5 862.2,1077.5 862.0,1078.5 861.5,1079.0 M823.0,1081.6 816.4,1081.0 814.6,1080.5 813.6,1080.0 813.3,1079.5 813.4,1079.0 814.3,1078.0 815.5,1077.4 819.0,1076.6 820.5,1076.7 822.5,1077.8 823.6,1079.0 824.0,1079.9 824.0,1080.5 823.5,1081.3 823.0,1081.6 M1010.5,1098.0 1008.0,1098.2 1004.0,1097.8 1002.0,1097.5 1000.0,1096.8 998.5,1096.0 996.6,1094.5 996.0,1093.5 996.1,1092.5 997.1,1091.0 998.4,1090.0 999.5,1089.5 1004.0,1088.0 1007.0,1087.7 1009.5,1087.8 1015.5,1089.3 1018.0,1090.4 1019.2,1091.5 1019.6,1092.5 1019.3,1094.0 1018.6,1095.0 1017.5,1096.0 1015.5,1096.9 1010.5,1098.0 M866.5,1101.0 865.0,1101.3 864.0,1101.2 862.5,1100.8 861.0,1100.0 859.7,1099.0 857.7,1097.0 857.2,1096.0 857.3,1095.0 858.4,1094.0 861.7,1092.0 863.8,1091.0 865.5,1090.6 868.5,1091.0 873.9,1092.5 875.0,1093.0 876.0,1094.0 876.4,1095.0 876.1,1096.5 874.9,1098.5 873.5,1099.8 872.0,1100.5 868.5,1100.5 866.5,1101.0 M894.5,1116.0 892.0,1116.3 890.0,1116.2 883.5,1115.4 881.0,1114.6 877.9,1112.5 876.4,1111.0 875.9,1110.0 875.9,1109.0 876.5,1107.0 877.2,1106.0 878.0,1105.4 882.0,1103.1 886.3,1101.5 889.3,1099.0 891.0,1097.9 893.5,1096.8 896.0,1096.2 899.0,1096.2 902.0,1097.3 904.0,1098.2 908.0,1100.6 910.7,1102.0 911.8,1103.0 912.2,1104.0 911.7,1105.5 909.0,1108.0 906.3,1111.0 904.5,1112.5 902.5,1113.8 900.0,1114.8 898.0,1115.4 894.5,1116.0 M908.5,1098.7 908.0,1098.5 908.5,1098.2 908.7,1098.5 908.5,1098.7 M860.5,1120.5 858.0,1120.9 856.0,1120.9 853.0,1120.2 849.5,1118.9 848.3,1118.0 846.9,1116.0 846.7,1114.5 847.0,1113.0 847.8,1112.0 848.5,1111.4 851.5,1109.8 853.5,1109.1 857.0,1108.4 859.0,1108.3 861.5,1108.7 863.5,1109.5 867.5,1112.5 868.3,1114.0 868.5,1115.0 868.4,1116.0 867.5,1117.5 866.0,1118.7 863.5,1119.7 860.5,1120.5 M933.0,1136.5 930.0,1136.5 925.0,1135.7 919.0,1132.7 916.5,1130.5 913.4,1129.0 912.0,1128.0 911.3,1127.0 911.1,1126.0 911.3,1125.0 911.8,1124.0 912.5,1123.0 913.5,1122.3 916.5,1122.0 921.0,1120.9 924.0,1119.7 926.0,1119.5 930.0,1119.9 933.0,1119.7 940.0,1120.1 944.5,1120.7 946.5,1121.3 948.0,1122.0 950.8,1123.5 951.8,1124.5 952.1,1125.0 952.1,1126.0 950.9,1128.0 949.5,1129.3 946.6,1131.0 944.9,1133.5 943.8,1134.5 942.5,1135.0 939.5,1135.7 933.0,1136.5 M870.5,1136.6 869.0,1136.7 867.5,1136.5 865.5,1135.8 864.5,1135.1 863.3,1133.5 862.0,1129.5 862.0,1128.5 862.2,1127.0 863.8,1124.0 865.5,1122.3 866.5,1121.7 868.0,1121.2 870.5,1121.3 872.0,1121.8 873.0,1122.5 874.8,1124.5 875.3,1125.5 875.8,1127.0 875.8,1130.5 875.1,1133.0 874.1,1134.5 873.0,1135.5 872.0,1136.1 870.5,1136.6 M905.0,1135.7 904.0,1135.9 903.2,1135.5 902.8,1135.0 902.7,1134.5 903.0,1133.8 903.5,1133.5 904.0,1133.5 905.3,1134.0 905.6,1134.5 905.6,1135.0 905.0,1135.7 M893.5,1170.0 889.5,1170.2 888.0,1170.1 885.0,1169.4 882.0,1168.9 880.0,1168.1 878.4,1167.0 877.3,1165.5 876.9,1163.5 876.9,1162.5 877.3,1161.5 878.4,1160.0 880.5,1158.4 884.5,1157.0 887.5,1155.2 890.5,1153.8 894.0,1152.7 898.5,1152.2 903.0,1152.4 907.0,1153.4 908.5,1154.1 909.5,1155.0 909.8,1155.5 909.9,1156.5 909.5,1157.5 908.5,1159.0 908.1,1160.0 908.4,1162.5 908.3,1163.5 907.9,1164.5 907.0,1165.6 904.0,1167.7 901.5,1168.7 896.0,1169.8 893.5,1170.0 M859.0,1226.6 857.5,1226.9 856.0,1226.9 854.5,1226.3 853.0,1225.3 852.0,1224.0 850.3,1221.0 848.6,1217.0 847.6,1212.5 846.8,1206.0 846.9,1200.0 847.8,1196.5 848.3,1192.5 849.2,1190.0 850.1,1188.0 853.5,1183.5 855.0,1182.3 856.5,1181.7 861.0,1180.8 863.0,1180.8 865.5,1181.3 866.9,1180.5 868.0,1180.2 869.5,1180.1 871.0,1180.3 872.5,1181.2 873.0,1182.0 873.0,1182.5 872.9,1183.0 872.0,1183.7 868.4,1184.5 870.1,1187.5 870.8,1189.0 871.3,1191.0 871.5,1193.0 871.3,1195.0 869.4,1203.0 868.7,1207.5 867.6,1212.0 870.5,1212.0 872.0,1212.1 873.0,1212.5 873.6,1213.0 873.8,1213.5 873.5,1214.0 873.0,1214.4 871.5,1214.9 870.0,1215.1 867.0,1214.9 866.5,1218.0 871.4,1219.0 872.3,1219.5 872.6,1220.0 872.5,1220.5 871.9,1221.0 870.5,1221.5 866.5,1221.6 865.0,1221.4 864.5,1221.8 862.5,1224.5 861.1,1225.5 859.0,1226.6 M842.5,1195.6 840.0,1195.9 838.0,1195.5 836.3,1194.5 835.2,1193.0 834.9,1191.5 835.3,1189.5 836.5,1187.7 838.0,1186.6 840.5,1185.9 841.5,1185.9 843.0,1186.2 844.0,1186.6 845.0,1187.4 846.2,1189.0 846.8,1191.0 846.7,1192.0 846.3,1193.0 845.5,1193.9 844.5,1194.7 842.5,1195.6 M876.5,1205.0 875.0,1205.0 873.5,1204.6 872.6,1204.0 872.2,1203.5 872.2,1203.0 873.0,1202.2 874.5,1201.7 878.5,1201.8 881.0,1201.4 882.5,1201.6 883.7,1202.5 883.8,1203.0 883.5,1203.5 882.0,1204.3 876.5,1205.0 M870.0,1227.0 868.0,1227.4 865.0,1227.2 863.0,1226.5 862.5,1226.0 862.6,1225.5 863.5,1224.9 865.0,1224.5 869.5,1224.7 870.3,1225.0 870.9,1225.5 871.0,1226.0 870.8,1226.5 870.0,1227.0 M782.5,1265.1 780.9,1265.0 779.3,1264.0 778.1,1262.5 778.1,1262.0 778.5,1261.5 780.0,1260.6 781.5,1260.2 783.0,1260.5 784.6,1261.5 785.5,1262.5 785.6,1263.0 785.5,1263.5 784.3,1264.5 782.5,1265.1 M534.0,1279.0 530.0,1279.1 528.5,1278.8 527.5,1278.2 526.5,1277.2 526.0,1276.0 526.1,1274.5 526.6,1273.5 527.5,1272.6 528.5,1271.9 530.0,1271.2 531.0,1271.0 536.0,1270.9 537.5,1271.3 539.0,1272.0 540.0,1273.0 540.4,1274.0 540.5,1275.5 540.0,1276.5 538.5,1277.6 535.5,1278.7 534.0,1279.0 M886.5,911.1 884.5,911.2 880.5,910.2 879.0,909.7 878.0,909.0 876.6,907.5 875.3,905.5 875.0,904.0 875.2,903.0 875.5,902.5 877.0,901.4 879.0,900.7 882.0,900.4 887.0,900.4 888.0,900.5 889.3,901.0 893.2,903.5 893.7,904.0 893.9,905.0 893.6,906.0 892.7,907.5 891.6,908.5 889.0,910.1 886.5,911.1 M863.5,1043.5 857.0,1043.4 855.0,1043.1 852.9,1042.5 851.0,1041.5 850.0,1040.5 849.6,1039.5 849.7,1038.0 850.7,1036.5 852.0,1035.6 856.0,1034.4 858.0,1034.1 866.0,1034.0 872.0,1034.3 878.5,1033.9 881.0,1034.7 882.3,1035.5 882.6,1036.0 882.5,1036.5 882.2,1037.0 880.5,1038.1 876.0,1039.4 869.5,1042.2 863.5,1043.5 M847.0,1063.0 842.0,1063.0 836.5,1062.3 833.4,1061.0 831.8,1060.0 831.0,1059.0 831.0,1058.0 831.5,1057.1 832.2,1056.5 836.0,1054.8 838.0,1054.3 843.5,1053.6 849.5,1053.9 852.0,1054.4 855.5,1055.5 856.5,1056.1 857.3,1057.0 857.5,1058.0 857.3,1059.0 856.5,1060.0 855.1,1061.0 851.5,1062.5 847.0,1063.0 M907.5,1068.0 903.5,1068.4 899.5,1067.8 898.5,1067.4 897.3,1066.5 896.7,1065.5 896.7,1064.5 897.5,1063.4 899.0,1062.8 903.0,1062.7 908.0,1063.0 909.3,1064.0 909.9,1065.0 910.0,1066.0 909.5,1067.0 909.0,1067.4 907.5,1068.0 M882.5,1077.0 878.0,1077.0 876.5,1076.8 874.5,1075.9 872.5,1074.6 871.6,1073.5 871.3,1072.0 871.3,1069.5 872.1,1068.0 873.5,1066.9 875.5,1065.8 878.5,1064.9 880.0,1064.7 882.0,1064.8 884.0,1065.2 887.5,1066.7 889.0,1067.6 889.8,1068.5 890.2,1070.0 889.8,1072.0 888.9,1074.0 888.0,1075.0 886.5,1075.8 884.0,1076.8 882.5,1077.0 M1011.0,1097.1 1009.5,1097.3 1007.5,1097.2 1003.5,1096.9 1001.5,1096.4 999.8,1095.5 998.8,1094.5 998.1,1093.0 998.3,1092.0 999.5,1090.6 1001.5,1089.7 1004.5,1088.8 1007.5,1088.6 1010.0,1088.8 1014.5,1090.1 1016.5,1090.9 1017.5,1091.7 1017.9,1092.5 1017.9,1093.5 1017.5,1094.2 1016.7,1095.0 1015.0,1095.9 1011.0,1097.1 M866.0,1099.6 864.5,1099.7 863.0,1099.3 861.9,1098.5 860.8,1097.0 860.7,1096.0 861.0,1095.0 861.9,1094.0 863.0,1093.3 865.0,1092.4 866.5,1092.3 868.0,1092.5 869.5,1092.9 872.3,1094.0 873.5,1095.0 873.7,1096.0 873.4,1097.0 872.7,1098.0 872.0,1098.5 871.0,1098.7 868.5,1098.9 866.0,1099.6 M893.5,1115.6 891.0,1115.7 885.0,1114.9 883.0,1114.5 881.5,1113.9 879.5,1112.5 877.6,1110.5 877.2,1109.0 877.5,1107.5 878.5,1106.3 882.0,1104.0 883.5,1103.3 886.0,1102.6 887.0,1102.1 890.0,1099.5 892.0,1098.1 894.0,1097.2 896.0,1096.7 897.5,1096.7 899.0,1096.8 902.0,1097.9 904.9,1099.5 909.7,1103.0 910.2,1104.0 909.9,1105.0 904.7,1111.0 903.0,1112.5 901.5,1113.4 899.5,1114.3 897.5,1114.9 893.5,1115.6 M861.0,1119.1 859.0,1119.4 857.0,1119.5 853.5,1118.8 852.0,1118.3 850.8,1117.5 850.0,1116.5 849.4,1115.0 849.6,1113.5 850.4,1112.5 852.5,1111.2 856.5,1109.9 859.0,1109.6 861.5,1110.2 863.5,1111.4 865.4,1113.0 866.0,1114.0 866.2,1115.0 865.8,1116.5 864.9,1117.5 863.5,1118.3 861.0,1119.1 M933.0,1135.5 930.0,1135.5 926.0,1134.6 924.5,1134.0 920.6,1131.0 919.0,1128.8 917.4,1127.0 917.3,1126.5 919.2,1124.0 920.0,1123.3 924.0,1121.3 926.0,1120.9 930.0,1121.0 934.0,1120.8 939.5,1121.0 943.5,1121.6 945.5,1122.1 947.0,1122.8 948.7,1124.0 949.5,1125.0 949.7,1126.0 948.9,1127.5 945.5,1129.8 943.7,1132.5 942.6,1133.5 941.0,1134.2 939.0,1134.8 933.0,1135.5 M871.0,1135.7 869.5,1136.0 868.0,1135.9 867.0,1135.7 865.5,1135.0 864.1,1133.5 862.8,1130.0 862.7,1128.0 862.9,1127.0 863.6,1125.5 864.6,1124.0 865.5,1123.1 867.5,1122.1 869.5,1121.9 871.0,1122.2 872.0,1122.7 873.6,1124.0 874.3,1125.0 874.9,1126.5 875.2,1128.0 875.2,1130.0 874.6,1132.5 874.0,1133.5 873.0,1134.6 871.0,1135.7 M896.0,1169.1 894.0,1169.3 888.5,1169.3 881.9,1167.5 880.1,1166.5 879.2,1165.5 878.7,1164.0 878.7,1163.0 878.9,1162.0 879.9,1160.5 881.5,1159.1 885.0,1157.9 890.7,1154.5 894.0,1153.3 897.5,1152.7 901.5,1152.6 905.0,1153.3 907.8,1154.5 908.7,1155.5 908.7,1156.5 906.7,1159.5 906.6,1160.5 907.0,1163.0 906.8,1164.0 906.1,1165.0 904.5,1166.3 902.0,1167.7 900.0,1168.3 896.0,1169.1 M870.5,1182.5 870.0,1182.8 868.9,1182.5 869.2,1182.0 869.5,1181.9 870.1,1182.0 870.5,1182.5 M858.5,1225.0 857.0,1225.4 856.0,1225.3 855.0,1224.9 854.0,1224.2 853.0,1223.0 850.6,1218.5 849.4,1215.5 848.7,1212.5 848.4,1209.5 847.8,1206.0 847.8,1201.0 848.9,1196.5 849.7,1192.0 850.4,1190.0 851.3,1188.5 853.5,1186.4 855.4,1184.0 856.5,1183.2 858.0,1182.8 861.0,1182.3 863.5,1182.3 865.0,1182.6 866.0,1183.2 868.8,1187.0 869.6,1188.5 870.1,1190.0 870.5,1192.0 870.6,1193.5 869.2,1199.0 867.4,1208.5 866.2,1213.0 865.3,1218.0 864.6,1219.5 861.5,1223.0 860.3,1224.0 858.5,1225.0 M842.5,1195.1 840.5,1195.4 838.5,1195.1 837.0,1194.4 835.8,1193.0 835.5,1191.5 835.7,1190.0 836.5,1188.5 838.0,1187.1 840.0,1186.5 842.5,1186.5 843.5,1186.9 844.4,1187.5 845.6,1189.0 846.2,1191.0 845.9,1192.5 844.5,1194.1 842.5,1195.1 M868.0,1213.6 867.8,1213.5 868.4,1213.5 868.0,1213.6 M867.0,1220.5 866.0,1220.3 865.5,1220.0 866.0,1219.5 867.0,1219.4 868.0,1219.5 868.9,1220.0 868.0,1220.4 867.0,1220.5 M867.0,1226.2 866.5,1226.3 865.3,1226.0 866.5,1225.6 867.5,1226.0 867.0,1226.2 M533.5,1277.5 531.0,1277.5 529.5,1277.0 528.5,1276.0 528.4,1275.5 528.7,1274.5 530.0,1273.3 532.0,1272.6 535.0,1272.6 536.5,1273.0 537.3,1273.5 537.9,1274.5 537.9,1275.0 537.5,1275.7 535.5,1277.0 533.5,1277.5 M886.0,909.5 884.5,909.5 881.5,908.9 879.4,908.0 878.4,907.0 877.6,905.5 877.6,904.5 878.1,903.5 879.5,902.5 881.5,902.1 887.0,902.2 888.0,902.4 889.0,902.9 890.1,904.0 890.7,905.0 890.8,906.0 890.7,906.5 889.9,907.5 888.5,908.6 887.0,909.3 886.0,909.5 M865.0,1042.6 863.0,1042.9 858.0,1042.8 854.5,1042.2 852.9,1041.5 851.6,1040.5 851.0,1039.5 851.0,1038.0 851.7,1037.0 853.0,1036.1 856.0,1035.1 858.5,1034.8 866.0,1034.9 874.5,1035.7 878.0,1035.2 879.3,1035.5 879.8,1036.0 879.8,1036.5 879.2,1037.0 875.5,1037.8 870.0,1041.1 865.0,1042.6 M845.0,1062.5 840.5,1062.3 836.5,1061.5 834.5,1060.5 833.3,1059.5 832.8,1058.5 832.8,1058.0 833.6,1057.0 834.2,1056.5 836.5,1055.5 843.5,1054.2 849.0,1054.6 851.5,1055.0 854.5,1056.2 855.5,1057.0 855.8,1057.5 855.8,1058.5 855.3,1059.5 854.1,1060.5 852.5,1061.4 850.0,1062.1 845.0,1062.5 M904.5,1067.0 902.5,1067.0 900.5,1066.6 899.6,1066.0 899.3,1065.5 899.3,1065.0 899.6,1064.5 900.5,1064.1 902.5,1063.9 905.5,1064.2 906.4,1064.5 907.1,1065.0 907.2,1065.5 907.0,1066.0 906.0,1066.6 904.5,1067.0 M883.0,1076.1 877.5,1076.0 876.0,1075.5 873.8,1074.0 873.0,1073.0 872.8,1071.5 873.0,1069.5 873.8,1068.0 875.0,1067.0 876.5,1066.3 878.5,1065.7 880.5,1065.6 882.5,1065.9 884.0,1066.3 886.5,1067.5 888.0,1068.5 888.5,1069.5 888.6,1070.5 888.3,1072.0 887.6,1073.5 887.0,1074.2 885.9,1075.0 884.5,1075.7 883.0,1076.1 M1011.0,1096.1 1008.5,1096.3 1004.0,1096.0 1002.5,1095.7 1001.5,1095.2 1000.6,1094.5 1000.0,1093.5 999.9,1092.5 1000.6,1091.5 1002.5,1090.4 1004.5,1089.8 1007.0,1089.6 1009.0,1089.6 1011.5,1090.2 1014.1,1091.0 1015.7,1092.0 1016.1,1093.0 1015.5,1094.1 1014.0,1095.1 1011.0,1096.1 M866.5,1098.1 865.0,1098.1 864.0,1097.8 863.5,1097.3 863.1,1096.5 863.1,1096.0 863.8,1095.0 865.0,1094.2 867.0,1094.0 868.8,1094.5 870.1,1095.5 870.3,1096.0 870.0,1096.5 868.2,1097.5 866.5,1098.1 M893.0,1115.0 891.0,1115.0 885.0,1114.1 882.0,1113.1 880.4,1112.0 879.2,1110.5 878.6,1109.0 878.7,1108.0 879.4,1107.0 882.5,1104.7 887.4,1103.0 888.8,1102.0 892.0,1099.0 893.5,1098.1 895.5,1097.4 898.0,1097.3 901.0,1098.2 904.0,1099.8 907.2,1102.5 907.9,1103.5 908.0,1104.0 907.7,1105.0 905.1,1108.0 903.6,1110.5 902.2,1112.0 900.5,1113.1 898.5,1113.9 893.0,1115.0 M859.5,1118.0 857.0,1117.9 854.0,1117.0 853.0,1116.5 852.5,1115.9 852.2,1115.0 852.7,1113.5 854.0,1112.3 857.5,1111.0 859.5,1110.9 861.5,1111.8 863.4,1113.5 863.9,1114.5 863.9,1115.5 863.3,1116.5 862.5,1117.1 861.0,1117.7 859.5,1118.0 M933.0,1134.5 931.0,1134.5 929.5,1134.2 926.4,1133.0 925.1,1132.0 923.5,1130.0 922.0,1127.0 922.0,1125.5 922.9,1124.0 924.0,1123.2 925.5,1122.6 932.5,1121.7 934.5,1121.7 939.0,1121.8 943.5,1122.7 945.5,1123.4 946.8,1124.5 947.3,1125.5 947.1,1126.5 946.2,1127.5 944.2,1129.0 942.5,1131.5 941.5,1132.5 940.0,1133.4 938.5,1133.9 933.0,1134.5 M870.5,1135.0 869.0,1135.3 868.0,1135.2 866.5,1134.7 865.5,1134.1 864.4,1132.5 863.3,1129.5 863.4,1127.5 864.5,1125.3 866.0,1123.6 867.0,1123.0 868.0,1122.7 870.0,1122.7 872.0,1123.5 873.5,1125.0 874.3,1127.0 874.6,1130.0 874.1,1132.0 873.5,1133.0 872.5,1134.0 870.5,1135.0 M894.5,1168.5 888.5,1168.3 886.0,1167.5 883.0,1166.3 881.9,1165.5 881.1,1164.5 880.9,1163.0 881.3,1161.5 882.0,1160.5 882.7,1160.0 887.2,1158.0 892.5,1154.6 895.5,1153.5 898.5,1153.1 902.0,1153.2 905.0,1153.9 907.0,1155.0 907.4,1155.5 907.5,1156.5 905.2,1159.5 905.0,1160.5 905.6,1163.0 905.3,1164.0 904.6,1165.0 902.5,1166.5 900.5,1167.4 897.0,1168.2 894.5,1168.5 M858.0,1223.1 856.5,1223.4 855.5,1223.1 855.0,1222.7 852.3,1219.0 850.8,1216.0 849.9,1213.0 849.6,1209.5 848.7,1206.0 848.6,1204.0 848.8,1201.5 851.1,1192.0 851.6,1190.5 852.2,1189.5 855.0,1187.0 856.5,1185.4 857.5,1184.7 861.5,1183.9 863.5,1183.9 864.5,1184.1 865.5,1184.8 868.2,1188.0 869.3,1190.5 869.5,1193.5 868.0,1199.0 866.1,1209.5 864.2,1217.5 863.3,1219.0 861.5,1220.7 860.0,1221.9 858.0,1223.1 M842.5,1194.6 841.0,1194.9 839.0,1194.7 837.5,1194.1 836.4,1193.0 836.1,1192.0 836.1,1190.5 836.8,1189.0 838.0,1187.8 839.0,1187.2 840.0,1187.0 842.0,1186.9 843.5,1187.5 844.9,1189.0 845.4,1190.0 845.6,1191.0 845.2,1192.5 844.0,1193.8 842.5,1194.6 M533.5,1275.7 532.0,1275.5 531.6,1275.0 532.1,1274.5 532.5,1274.3 534.0,1274.5 534.4,1275.0 534.0,1275.5 533.5,1275.7 M886.5,907.6 884.5,907.9 882.0,907.4 880.6,906.5 880.3,905.5 880.4,905.0 881.0,904.4 882.5,903.9 885.0,903.8 887.0,904.1 888.2,905.0 888.3,906.0 887.6,907.0 886.5,907.6 M864.0,1042.0 862.5,1042.2 857.5,1042.0 855.1,1041.5 854.0,1041.0 852.9,1040.0 852.4,1039.0 852.6,1038.0 853.6,1037.0 855.5,1036.2 857.5,1035.6 859.5,1035.5 863.5,1035.7 868.0,1036.3 870.0,1036.8 871.0,1037.5 871.2,1038.0 871.1,1038.5 870.3,1039.5 869.7,1040.0 866.0,1041.5 864.0,1042.0 M848.5,1061.5 843.5,1061.9 841.0,1061.8 838.5,1061.4 837.0,1060.9 835.6,1060.0 834.8,1059.0 834.7,1058.0 835.5,1057.0 837.0,1056.2 843.5,1054.9 850.0,1055.5 852.0,1056.1 853.4,1057.0 853.8,1057.5 854.0,1058.5 853.6,1059.5 853.1,1060.0 852.0,1060.7 851.0,1061.1 848.5,1061.5 M883.0,1075.0 881.0,1075.2 878.0,1074.9 876.8,1074.5 875.5,1073.7 874.5,1072.5 874.2,1071.5 874.3,1070.0 875.0,1068.5 876.0,1067.6 877.0,1067.1 878.5,1066.6 880.0,1066.4 881.5,1066.6 883.0,1067.1 886.0,1068.8 886.7,1069.5 887.0,1070.5 887.0,1071.5 886.7,1072.5 885.4,1074.0 884.5,1074.5 883.0,1075.0 M1011.0,1095.1 1008.5,1095.4 1004.0,1094.8 1003.0,1094.5 1002.3,1094.0 1001.8,1093.0 1002.4,1092.0 1004.5,1090.9 1008.0,1090.6 1010.5,1090.9 1012.3,1091.5 1013.1,1092.0 1013.6,1092.5 1013.8,1093.0 1013.6,1093.5 1013.1,1094.0 1011.0,1095.1 M867.0,1096.6 866.0,1096.6 865.6,1096.0 866.0,1095.7 867.0,1095.6 867.5,1096.0 867.0,1096.6 M895.0,1114.1 893.0,1114.4 891.5,1114.4 884.0,1113.0 882.1,1112.0 881.0,1111.0 880.3,1109.5 880.2,1108.5 881.2,1107.0 883.0,1105.4 884.5,1104.8 887.5,1104.1 889.4,1103.0 892.1,1100.0 893.5,1098.9 894.5,1098.4 896.0,1098.0 897.5,1097.9 899.0,1098.2 901.5,1099.1 903.4,1100.5 905.3,1102.5 905.8,1103.5 905.8,1104.0 905.3,1105.0 903.6,1107.0 902.4,1110.0 901.3,1111.5 899.0,1112.9 895.0,1114.1 M859.5,1116.6 858.0,1116.6 856.0,1115.9 854.9,1115.0 854.7,1114.5 854.8,1114.0 855.9,1113.0 857.5,1112.3 859.0,1112.3 860.0,1112.6 861.1,1113.5 861.6,1114.5 861.6,1115.0 860.9,1116.0 859.5,1116.6 M934.0,1133.5 932.0,1133.5 930.5,1133.3 928.9,1132.5 927.8,1131.5 927.1,1130.5 925.4,1126.0 925.6,1125.0 926.1,1124.5 927.0,1124.0 929.0,1123.3 932.5,1122.6 934.5,1122.5 939.5,1122.7 943.5,1123.8 944.7,1124.5 945.2,1125.5 944.8,1126.5 941.5,1129.0 940.5,1131.0 939.8,1132.0 938.0,1133.0 934.0,1133.5 M869.0,1134.5 867.0,1134.2 865.5,1133.0 864.3,1130.5 864.0,1128.5 864.1,1127.5 864.6,1126.5 866.0,1124.6 867.5,1123.6 869.0,1123.4 871.0,1123.8 872.5,1125.0 873.6,1127.0 873.9,1129.5 873.5,1131.5 872.5,1133.0 871.0,1134.0 869.0,1134.5 M896.5,1167.5 894.0,1167.8 891.0,1167.6 889.0,1167.3 886.5,1166.5 884.7,1165.5 883.7,1164.5 883.2,1163.5 883.3,1162.0 884.0,1161.0 884.7,1160.5 890.9,1157.5 892.9,1155.5 895.5,1154.2 898.0,1153.6 901.0,1153.6 903.5,1154.0 905.5,1155.0 906.0,1155.5 906.2,1156.0 906.1,1156.5 905.4,1157.5 903.9,1159.0 903.3,1160.0 903.9,1163.0 903.7,1164.0 903.3,1164.5 902.2,1165.5 900.5,1166.5 896.5,1167.5 M858.5,1220.6 857.0,1220.8 856.0,1220.4 853.5,1218.2 852.1,1216.0 851.2,1213.5 850.7,1209.5 849.8,1206.0 849.6,1204.5 849.7,1202.5 850.1,1200.5 852.3,1193.0 853.4,1190.5 855.5,1188.4 858.0,1186.7 861.0,1185.6 863.0,1185.4 864.0,1185.7 865.0,1186.4 866.8,1188.0 867.5,1189.0 868.2,1191.0 868.3,1193.5 866.8,1199.0 864.9,1210.0 863.5,1216.0 862.8,1217.5 862.0,1218.4 860.0,1219.9 858.5,1220.6 M842.5,1194.1 841.0,1194.4 839.5,1194.3 838.0,1193.8 837.0,1192.8 836.6,1191.5 836.7,1190.5 837.5,1189.0 838.5,1188.1 840.0,1187.5 842.0,1187.5 843.3,1188.0 844.3,1189.0 844.9,1190.5 844.8,1192.0 844.0,1193.1 842.5,1194.1 M884.0,906.0 883.3,905.5 884.0,905.2 884.7,905.5 884.5,905.8 884.0,906.0 M864.5,1041.1 862.0,1041.4 856.5,1041.0 855.5,1040.6 854.6,1040.0 854.3,1039.5 854.2,1038.5 855.0,1037.5 856.0,1037.0 857.5,1036.5 859.5,1036.3 861.5,1036.3 864.0,1036.7 866.0,1037.3 867.3,1038.0 867.7,1038.5 867.7,1039.0 867.3,1039.5 865.9,1040.5 864.5,1041.1 M846.5,1061.0 842.5,1061.2 839.0,1060.7 837.5,1060.0 836.9,1059.5 836.5,1058.5 836.6,1058.0 837.5,1057.1 838.5,1056.7 842.0,1055.7 844.0,1055.5 847.0,1055.9 850.0,1056.5 851.5,1057.1 852.3,1058.0 852.3,1059.0 851.3,1060.0 850.0,1060.5 846.5,1061.0 M881.5,1074.0 878.5,1073.8 877.5,1073.4 876.3,1072.5 875.7,1071.5 875.6,1070.5 875.9,1069.5 876.7,1068.5 878.5,1067.6 880.5,1067.5 881.5,1067.7 883.0,1068.4 884.9,1070.0 885.3,1071.0 885.1,1072.0 884.8,1072.5 883.5,1073.5 881.5,1074.0 M1010.0,1094.2 1008.5,1094.4 1006.5,1094.2 1004.8,1093.5 1004.5,1093.0 1004.7,1092.5 1006.0,1091.9 1008.0,1091.7 1009.5,1091.8 1011.0,1092.5 1011.3,1093.0 1011.1,1093.5 1010.0,1094.2 M894.5,1113.5 893.0,1113.8 891.5,1113.7 886.0,1112.6 884.5,1112.1 883.4,1111.5 882.4,1110.5 881.9,1109.5 882.1,1108.0 882.8,1107.0 884.0,1106.0 888.0,1105.0 891.0,1103.5 891.5,1103.0 893.0,1100.5 894.5,1099.2 895.5,1098.8 897.0,1098.6 898.5,1098.8 900.0,1099.2 901.4,1100.0 902.4,1101.0 903.0,1102.0 903.3,1103.0 903.2,1104.0 901.5,1106.8 900.9,1110.0 900.3,1111.0 898.9,1112.0 897.0,1112.8 894.5,1113.5 M859.0,1115.0 858.5,1115.2 857.5,1115.1 856.8,1114.5 857.1,1114.0 857.5,1113.8 858.5,1113.7 859.1,1114.0 859.3,1114.5 859.0,1115.0 M934.5,1132.5 932.0,1132.4 931.0,1132.0 930.4,1131.5 930.1,1130.5 930.9,1128.5 930.7,1128.0 929.0,1126.5 928.6,1126.0 928.6,1125.5 928.8,1125.0 929.5,1124.5 931.5,1123.7 933.5,1123.3 935.5,1123.2 938.0,1123.3 939.5,1123.6 941.5,1124.3 942.6,1125.0 942.8,1125.5 942.6,1126.0 942.1,1126.5 938.8,1128.0 938.2,1128.5 938.1,1129.0 938.2,1130.5 937.8,1131.5 936.5,1132.1 934.5,1132.5 M870.0,1133.6 869.0,1133.7 868.0,1133.6 866.7,1133.0 865.5,1131.6 864.7,1129.5 864.7,1128.0 865.5,1126.3 867.0,1124.9 868.5,1124.3 870.0,1124.3 871.5,1125.1 872.5,1126.5 873.1,1128.5 873.2,1130.0 872.7,1131.5 871.5,1132.8 870.0,1133.6 M897.5,1166.5 895.5,1166.9 893.5,1166.9 891.0,1166.6 888.0,1165.8 886.5,1165.1 885.7,1164.5 885.1,1163.5 885.1,1162.5 885.7,1161.5 887.5,1160.3 889.0,1159.7 893.0,1158.5 893.6,1158.0 894.2,1156.0 894.7,1155.5 896.0,1154.7 898.0,1154.2 900.5,1154.1 902.5,1154.4 903.9,1155.0 904.5,1155.5 904.7,1156.0 904.4,1157.0 901.3,1159.5 901.3,1160.0 902.2,1162.5 902.2,1163.5 902.0,1164.0 901.1,1165.0 900.3,1165.5 897.5,1166.5 M859.0,1218.1 857.5,1218.3 856.0,1218.1 854.5,1217.2 853.2,1215.5 852.6,1214.0 851.8,1209.5 850.9,1206.0 850.9,1203.0 851.8,1199.0 852.8,1196.0 854.0,1193.2 855.5,1190.8 856.5,1189.7 857.5,1189.1 861.5,1187.4 863.0,1187.3 864.5,1187.9 866.3,1189.5 866.9,1191.0 867.1,1193.5 866.7,1195.5 865.4,1199.0 865.1,1202.0 863.8,1209.5 862.4,1215.0 862.0,1216.0 861.2,1217.0 860.5,1217.5 859.0,1218.1 M842.0,1193.7 841.0,1193.9 839.5,1193.8 838.5,1193.4 837.5,1192.5 837.2,1191.5 837.3,1190.5 838.0,1189.2 839.0,1188.4 840.5,1187.9 842.0,1188.0 843.0,1188.5 843.9,1189.5 844.3,1191.0 844.1,1192.0 843.3,1193.0 842.0,1193.7 M862.5,1040.6 859.0,1040.5 857.0,1040.1 856.2,1039.5 856.0,1039.0 856.1,1038.5 856.5,1038.0 857.5,1037.5 860.0,1037.2 863.0,1037.5 864.1,1038.0 864.7,1038.5 865.0,1039.0 864.5,1039.8 863.5,1040.3 862.5,1040.6 M845.0,1060.5 842.0,1060.5 840.0,1060.1 838.9,1059.5 838.4,1059.0 838.4,1058.5 839.0,1057.7 840.5,1057.0 842.5,1056.4 844.0,1056.2 846.0,1056.4 848.3,1057.0 849.5,1057.5 850.1,1058.0 850.4,1058.5 850.2,1059.0 849.5,1059.5 847.5,1060.1 845.0,1060.5 M881.5,1072.7 879.5,1072.8 878.5,1072.5 877.8,1072.0 877.2,1071.0 877.4,1070.0 877.7,1069.5 878.5,1068.9 880.0,1068.6 881.0,1068.8 882.2,1069.5 883.0,1070.5 883.0,1071.5 882.5,1072.2 881.5,1072.7 M893.0,1113.0 891.0,1112.9 887.0,1111.9 885.5,1111.3 884.5,1110.7 883.9,1110.0 883.7,1109.0 883.9,1108.0 884.5,1107.3 885.5,1106.7 891.2,1105.0 893.3,1104.0 893.6,1103.5 893.8,1102.0 894.1,1101.0 895.2,1100.0 896.5,1099.6 897.5,1099.5 899.6,1100.0 900.9,1101.0 901.2,1101.5 901.4,1102.5 901.0,1103.5 899.2,1105.0 898.9,1105.5 899.6,1108.5 899.4,1110.0 898.6,1111.0 897.5,1111.7 895.0,1112.6 893.0,1113.0 M937.5,1126.5 936.0,1126.5 933.0,1126.0 932.1,1125.5 932.0,1125.0 932.7,1124.5 933.5,1124.2 936.0,1124.0 938.5,1124.2 939.9,1125.0 940.0,1125.5 939.3,1126.0 937.5,1126.5 M870.0,1132.7 868.5,1132.8 867.0,1132.1 866.1,1131.0 865.5,1129.5 865.6,1128.0 866.0,1127.0 867.0,1126.0 868.5,1125.2 870.0,1125.3 871.0,1125.8 871.8,1127.0 872.3,1128.5 872.3,1130.0 872.0,1131.0 871.2,1132.0 870.0,1132.7 M934.5,1131.2 934.0,1131.3 933.5,1131.0 934.5,1130.9 934.7,1131.0 934.5,1131.2 M901.5,1157.6 899.5,1157.9 897.5,1157.8 896.5,1157.3 895.9,1156.5 896.1,1156.0 896.6,1155.5 897.8,1155.0 899.5,1154.7 901.5,1154.9 902.8,1155.5 903.1,1156.0 903.1,1156.5 902.7,1157.0 901.5,1157.6 M897.5,1165.5 894.5,1166.0 892.0,1165.8 890.0,1165.3 888.5,1164.7 887.4,1164.0 887.0,1163.5 887.0,1162.5 887.5,1161.8 888.5,1161.1 891.0,1160.2 895.5,1159.8 898.0,1160.2 899.0,1160.6 900.0,1161.5 900.4,1162.0 900.6,1163.0 900.2,1164.0 899.7,1164.5 897.5,1165.5 M842.0,1193.0 841.0,1193.3 840.0,1193.2 838.4,1192.5 838.1,1192.0 837.9,1191.0 838.2,1190.0 839.0,1189.1 840.0,1188.7 841.0,1188.5 842.0,1188.7 843.0,1189.5 843.5,1190.5 843.5,1191.5 842.8,1192.5 842.0,1193.0 M857.0,1216.0 855.5,1215.7 854.4,1214.5 853.7,1212.5 852.2,1207.0 852.0,1204.5 852.8,1199.5 853.4,1197.5 854.2,1196.0 855.0,1194.8 857.0,1192.6 858.5,1191.5 862.0,1189.6 863.5,1189.4 864.5,1189.8 865.2,1190.5 865.6,1191.5 865.8,1193.0 865.4,1195.0 863.8,1198.5 863.6,1202.5 862.7,1209.0 861.1,1213.5 860.5,1214.8 859.5,1215.6 857.0,1216.0 M862.0,1039.5 860.0,1039.6 858.7,1039.0 859.1,1038.5 859.5,1038.4 861.5,1038.3 862.1,1038.5 862.6,1039.0 862.0,1039.5 M846.0,1059.6 844.0,1059.8 842.0,1059.6 840.7,1059.0 840.5,1058.5 840.9,1058.0 842.5,1057.2 844.0,1057.0 845.5,1057.1 847.0,1057.6 847.6,1058.0 847.8,1058.5 847.5,1059.0 846.0,1059.6 M881.0,1071.0 880.5,1071.4 880.0,1071.3 879.5,1071.0 879.7,1070.5 880.0,1070.4 880.7,1070.5 881.0,1071.0 M898.0,1101.6 897.8,1101.5 898.3,1101.5 898.0,1101.6 M894.0,1112.0 892.5,1112.2 891.5,1112.1 887.5,1110.8 886.3,1110.0 886.0,1109.5 886.1,1108.5 886.6,1108.0 887.5,1107.5 891.0,1106.3 893.5,1106.0 895.5,1106.3 896.5,1106.8 897.3,1107.5 897.9,1108.5 897.9,1109.5 897.3,1110.5 896.6,1111.0 894.0,1112.0 M936.5,1125.1 936.0,1125.2 935.5,1125.0 936.0,1124.9 936.7,1125.0 936.5,1125.1 M870.0,1131.6 869.0,1131.8 868.0,1131.5 867.0,1130.6 866.5,1129.5 866.5,1128.5 866.9,1127.5 867.5,1126.9 868.5,1126.4 869.5,1126.3 870.0,1126.5 870.6,1127.0 871.2,1128.0 871.4,1129.0 871.3,1130.0 870.8,1131.0 870.0,1131.6 M896.5,1164.6 894.0,1164.7 891.0,1164.3 889.6,1163.5 889.4,1163.0 889.6,1162.5 890.5,1161.7 892.0,1161.3 895.0,1161.2 897.0,1161.4 898.1,1162.0 898.5,1162.5 898.6,1163.0 898.4,1163.5 897.9,1164.0 896.5,1164.6 M841.0,1192.5 839.5,1192.3 838.8,1191.5 838.9,1190.5 839.2,1190.0 840.5,1189.3 841.7,1189.5 842.3,1190.0 842.6,1190.5 842.5,1191.5 842.1,1192.0 841.0,1192.5 M858.5,1212.5 857.0,1212.8 856.0,1212.4 855.2,1211.5 854.7,1210.5 853.6,1207.0 853.3,1205.5 853.4,1203.0 854.0,1200.0 854.8,1197.5 856.0,1196.1 857.5,1195.0 860.0,1193.8 862.0,1192.4 863.0,1192.1 863.6,1192.5 863.7,1193.5 863.3,1194.5 861.7,1197.5 861.3,1199.0 861.7,1204.0 861.7,1207.0 861.4,1208.5 861.0,1209.8 860.3,1211.0 859.5,1211.9 858.5,1212.5 M845.0,1058.7 844.0,1058.8 843.3,1058.5 843.9,1058.0 844.5,1058.0 845.0,1058.1 845.5,1058.5 845.0,1058.7 M893.5,1111.0 892.0,1111.0 890.4,1110.5 889.5,1110.0 889.1,1109.5 889.1,1109.0 889.4,1108.5 890.2,1108.0 891.8,1107.5 893.5,1107.4 895.0,1107.8 895.8,1108.5 896.0,1109.5 895.0,1110.5 893.5,1111.0 M869.0,1130.0 868.5,1129.8 868.1,1129.0 868.5,1128.2 869.0,1128.1 869.5,1128.3 869.9,1129.0 869.5,1129.9 869.0,1130.0 M858.5,1209.2 857.5,1209.4 856.5,1208.9 855.5,1207.5 854.8,1205.5 854.8,1203.5 855.3,1201.5 856.0,1199.8 856.5,1199.2 857.0,1199.0 857.5,1199.2 858.0,1199.8 859.0,1201.5 859.7,1204.5 859.8,1206.0 859.6,1207.5 859.1,1208.5 858.5,1209.2" fill="none" stroke="#111" stroke-width="1.15" stroke-linejoin="round"/>
</svg></body></html>
